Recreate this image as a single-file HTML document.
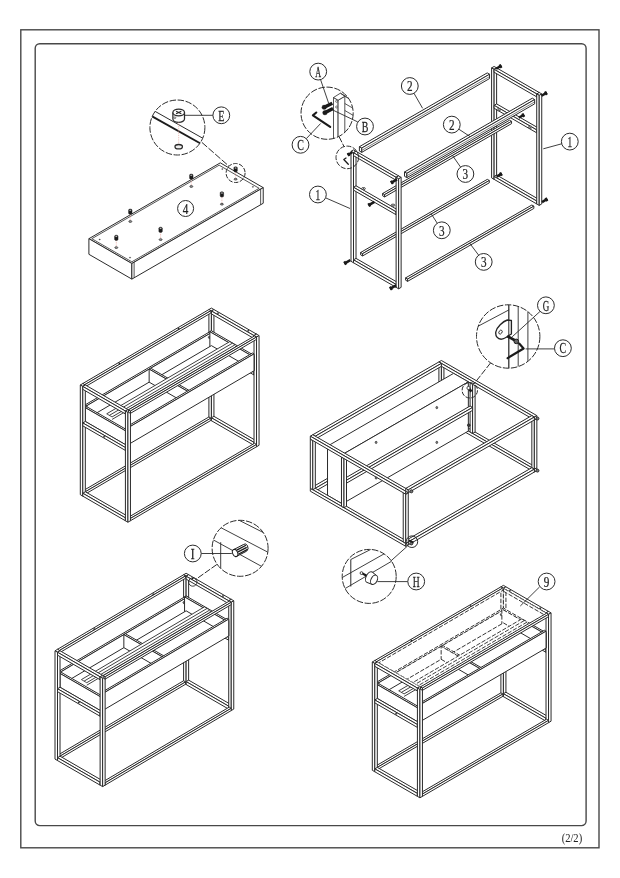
<!DOCTYPE html>
<html lang="en"><head><meta charset="utf-8"><title>Assembly instructions (2/2)</title>
<style>
html,body{margin:0;padding:0;background:#fff;}
body{width:620px;height:878px;overflow:hidden;}
svg{display:block;font-family:"Liberation Serif","Noto Serif CJK SC",serif;}
</style></head><body>
<svg style="will-change:transform" width="620" height="878" viewBox="0 0 620 878">
<rect x="20.8" y="29.8" width="578.2" height="818" fill="none" stroke="#484848" stroke-width="1.4"/>
<rect x="35.2" y="43.7" width="550.9" height="781.9" rx="4.5" ry="4.5" fill="none" stroke="#484848" stroke-width="1.4"/>
<text x="0" y="0" transform="translate(571.9 841.6) scale(0.88 1)" text-anchor="middle" font-size="12" fill="#222">(2/2)</text>
<polygon points="88.9,238.7 220.28,162.85 263.23,187.65 131.85,263.5" fill="#fff" stroke="#2a2a2a" stroke-width="1" stroke-linejoin="round"/>
<polygon points="88.9,254.3 131.85,279.1 131.85,263.5 88.9,238.7" fill="#fff" stroke="#2a2a2a" stroke-width="1" stroke-linejoin="round"/>
<polygon points="131.85,279.1 263.23,203.25 263.23,187.65 131.85,263.5" fill="#fff" stroke="#2a2a2a" stroke-width="1" stroke-linejoin="round"/>
<polygon points="91.84,238.7 219.15,165.2 259.16,188.3 131.85,261.8" fill="none" stroke="#2a2a2a" stroke-width="0.8" stroke-linejoin="round"/>
<line x1="260.63" y1="204.75" x2="260.63" y2="189.15" stroke="#2a2a2a" stroke-width="0.8" stroke-linecap="butt"/>
<line x1="134.11" y1="277.8" x2="134.11" y2="262.2" stroke="#2a2a2a" stroke-width="0.8" stroke-linecap="butt"/>
<line x1="235.6" y1="172" x2="235.6" y2="178.5" stroke="#e59a92" stroke-width="0.7" stroke-linecap="butt" stroke-dasharray="0.8 0.8"/>
<ellipse cx="235.6" cy="179.2" rx="1.5" ry="0.9" fill="#999" stroke="#2a2a2a" stroke-width="0.7"/>
<line x1="191.3" y1="179.3" x2="191.3" y2="185.8" stroke="#e59a92" stroke-width="0.7" stroke-linecap="butt" stroke-dasharray="0.8 0.8"/>
<ellipse cx="191.3" cy="186.5" rx="1.5" ry="0.9" fill="#999" stroke="#2a2a2a" stroke-width="0.7"/>
<line x1="221.9" y1="197" x2="221.9" y2="203.5" stroke="#e59a92" stroke-width="0.7" stroke-linecap="butt" stroke-dasharray="0.8 0.8"/>
<ellipse cx="221.9" cy="204.2" rx="1.5" ry="0.9" fill="#999" stroke="#2a2a2a" stroke-width="0.7"/>
<line x1="130.3" y1="214.3" x2="130.3" y2="220.8" stroke="#e59a92" stroke-width="0.7" stroke-linecap="butt" stroke-dasharray="0.8 0.8"/>
<ellipse cx="130.3" cy="221.5" rx="1.5" ry="0.9" fill="#999" stroke="#2a2a2a" stroke-width="0.7"/>
<line x1="160.6" y1="232.4" x2="160.6" y2="238.9" stroke="#e59a92" stroke-width="0.7" stroke-linecap="butt" stroke-dasharray="0.8 0.8"/>
<ellipse cx="160.6" cy="239.6" rx="1.5" ry="0.9" fill="#999" stroke="#2a2a2a" stroke-width="0.7"/>
<line x1="116.3" y1="240.4" x2="116.3" y2="246.9" stroke="#e59a92" stroke-width="0.7" stroke-linecap="butt" stroke-dasharray="0.8 0.8"/>
<ellipse cx="116.3" cy="247.6" rx="1.5" ry="0.9" fill="#999" stroke="#2a2a2a" stroke-width="0.7"/>
<path d="M233.9 167.8 v3.2 a1.7 1 0 0 0 3.4 0 v-3.2 a1.7 1 0 0 0 -3.4 0z" fill="#1a1a1a" stroke="#1a1a1a" stroke-width="0.5"/>
<ellipse cx="235.6" cy="168" rx="0.9" ry="0.5" fill="#ddd" stroke="#888" stroke-width="0.3"/>
<path d="M189.6 175.1 v3.2 a1.7 1 0 0 0 3.4 0 v-3.2 a1.7 1 0 0 0 -3.4 0z" fill="#1a1a1a" stroke="#1a1a1a" stroke-width="0.5"/>
<ellipse cx="191.3" cy="175.3" rx="0.9" ry="0.5" fill="#ddd" stroke="#888" stroke-width="0.3"/>
<path d="M220.2 192.8 v3.2 a1.7 1 0 0 0 3.4 0 v-3.2 a1.7 1 0 0 0 -3.4 0z" fill="#1a1a1a" stroke="#1a1a1a" stroke-width="0.5"/>
<ellipse cx="221.9" cy="193" rx="0.9" ry="0.5" fill="#ddd" stroke="#888" stroke-width="0.3"/>
<path d="M128.6 210.1 v3.2 a1.7 1 0 0 0 3.4 0 v-3.2 a1.7 1 0 0 0 -3.4 0z" fill="#1a1a1a" stroke="#1a1a1a" stroke-width="0.5"/>
<ellipse cx="130.3" cy="210.3" rx="0.9" ry="0.5" fill="#ddd" stroke="#888" stroke-width="0.3"/>
<path d="M158.9 228.2 v3.2 a1.7 1 0 0 0 3.4 0 v-3.2 a1.7 1 0 0 0 -3.4 0z" fill="#1a1a1a" stroke="#1a1a1a" stroke-width="0.5"/>
<ellipse cx="160.6" cy="228.4" rx="0.9" ry="0.5" fill="#ddd" stroke="#888" stroke-width="0.3"/>
<path d="M114.6 236.2 v3.2 a1.7 1 0 0 0 3.4 0 v-3.2 a1.7 1 0 0 0 -3.4 0z" fill="#1a1a1a" stroke="#1a1a1a" stroke-width="0.5"/>
<ellipse cx="116.3" cy="236.4" rx="0.9" ry="0.5" fill="#ddd" stroke="#888" stroke-width="0.3"/>
<circle cx="222.3" cy="169" r="0.6" fill="#333" stroke="#2a2a2a" stroke-width="0.3"/>
<circle cx="252.9" cy="186.8" r="0.6" fill="#333" stroke="#2a2a2a" stroke-width="0.3"/>
<circle cx="99.7" cy="239.5" r="0.6" fill="#333" stroke="#2a2a2a" stroke-width="0.3"/>
<circle cx="130" cy="257.6" r="0.6" fill="#333" stroke="#2a2a2a" stroke-width="0.3"/>
<circle cx="185.6" cy="208.5" r="8" fill="#fff" stroke="#2a2a2a" stroke-width="1"/>
<text x="0" y="0" transform="translate(185.6 213.7) scale(0.72 1)" text-anchor="middle" font-size="15.5" fill="#222" stroke="#222" stroke-width="0.25">4</text>
<clipPath id="cpE"><circle cx="177.4" cy="127.5" r="27.5"/></clipPath>
<g clip-path="url(#cpE)">
<line x1="150" y1="108.5" x2="205" y2="139.5" stroke="#2a2a2a" stroke-width="1" stroke-linecap="butt"/>
<line x1="148" y1="114" x2="205" y2="146" stroke="#1c1c1c" stroke-width="1.9" stroke-linecap="butt"/>
</g>
<path d="M172.9 112.5 v6.5 a5.8 3.3 0 0 0 11.6 0 v-6.5" fill="#fff" stroke="#2a2a2a" stroke-width="1.25"/>
<ellipse cx="178.7" cy="112.5" rx="5.8" ry="3.3" fill="#fff" stroke="#2a2a2a" stroke-width="1.25"/>
<line x1="176.1" y1="111.2" x2="181.3" y2="113.8" stroke="#222" stroke-width="1.1" stroke-linecap="butt"/>
<line x1="176.1" y1="113.8" x2="181.3" y2="111.2" stroke="#222" stroke-width="1.1" stroke-linecap="butt"/>
<circle cx="174.9" cy="117.7" r="0.9" fill="#fff" stroke="#2a2a2a" stroke-width="0.6"/>
<line x1="178.7" y1="122.5" x2="178.7" y2="144.5" stroke="#e6a8a0" stroke-width="0.8" stroke-linecap="butt" stroke-dasharray="0.9 0.9"/>
<ellipse cx="178.7" cy="146.7" rx="3.7" ry="2.2" fill="#eee" stroke="#2a2a2a" stroke-width="1.3"/>
<circle cx="177.4" cy="127.5" r="27.5" fill="none" stroke="#2a2a2a" stroke-width="1" stroke-dasharray="6.5 1.6"/>
<line x1="213" y1="115.3" x2="184.9" y2="115.3" stroke="#2a2a2a" stroke-width="0.9" stroke-linecap="butt"/>
<circle cx="221.3" cy="115.3" r="8.4" fill="#fff" stroke="#2a2a2a" stroke-width="1"/>
<text x="0" y="0" transform="translate(221.3 120.5) scale(0.66 1)" text-anchor="middle" font-size="15.5" fill="#222" stroke="#222" stroke-width="0.25">E</text>
<circle cx="235.6" cy="173" r="9.5" fill="none" stroke="#2a2a2a" stroke-width="1" stroke-dasharray="4.5 1.5"/>
<line x1="201.9" y1="142.4" x2="229" y2="166.2" stroke="#2a2a2a" stroke-width="1" stroke-linecap="butt" stroke-dasharray="7 1.8"/>
<polygon points="491.6,67.9 494.11,66.45 496.62,67.9 494.11,69.35" fill="#fff" stroke="#2a2a2a" stroke-width="1" stroke-linejoin="round"/>
<polygon points="491.6,177.9 494.11,179.35 494.11,69.35 491.6,67.9" fill="#fff" stroke="#2a2a2a" stroke-width="1" stroke-linejoin="round"/>
<polygon points="494.11,179.35 496.62,177.9 496.62,67.9 494.11,69.35" fill="#fff" stroke="#2a2a2a" stroke-width="1" stroke-linejoin="round"/>
<polygon points="494.11,176.45 496.62,175 539.23,199.6 536.72,201.05" fill="#fff" stroke="#2a2a2a" stroke-width="1" stroke-linejoin="round"/>
<polygon points="494.11,179.35 536.72,203.95 536.72,201.05 494.11,176.45" fill="#fff" stroke="#2a2a2a" stroke-width="1" stroke-linejoin="round"/>
<polygon points="536.72,203.95 539.23,202.5 539.23,199.6 536.72,201.05" fill="#fff" stroke="#2a2a2a" stroke-width="1" stroke-linejoin="round"/>
<polygon points="494.11,105.35 496.62,103.9 539.23,128.5 536.72,129.95" fill="#fff" stroke="#2a2a2a" stroke-width="1" stroke-linejoin="round"/>
<polygon points="494.11,108.25 536.72,132.85 536.72,129.95 494.11,105.35" fill="#fff" stroke="#2a2a2a" stroke-width="1" stroke-linejoin="round"/>
<polygon points="536.72,132.85 539.23,131.4 539.23,128.5 536.72,129.95" fill="#fff" stroke="#2a2a2a" stroke-width="1" stroke-linejoin="round"/>
<polygon points="494.11,69.35 496.62,67.9 539.23,92.5 536.72,93.95" fill="#fff" stroke="#2a2a2a" stroke-width="1" stroke-linejoin="round"/>
<polygon points="494.11,72.25 536.72,96.85 536.72,93.95 494.11,69.35" fill="#fff" stroke="#2a2a2a" stroke-width="1" stroke-linejoin="round"/>
<polygon points="536.72,96.85 539.23,95.4 539.23,92.5 536.72,93.95" fill="#fff" stroke="#2a2a2a" stroke-width="1" stroke-linejoin="round"/>
<polygon points="536.72,93.95 539.23,92.5 541.74,93.95 539.23,95.4" fill="#fff" stroke="#2a2a2a" stroke-width="1" stroke-linejoin="round"/>
<polygon points="536.72,203.95 539.23,205.4 539.23,95.4 536.72,93.95" fill="#fff" stroke="#2a2a2a" stroke-width="1" stroke-linejoin="round"/>
<polygon points="539.23,205.4 541.74,203.95 541.74,93.95 539.23,95.4" fill="#fff" stroke="#2a2a2a" stroke-width="1" stroke-linejoin="round"/>
<polygon points="359.4,146.7 487.23,72.9 489.56,74.25 361.74,148.05" fill="#fff" stroke="#2a2a2a" stroke-width="1" stroke-linejoin="round"/>
<polygon points="359.4,151 361.74,152.35 361.74,148.05 359.4,146.7" fill="#fff" stroke="#2a2a2a" stroke-width="1" stroke-linejoin="round"/>
<polygon points="361.74,152.35 489.56,78.55 489.56,74.25 361.74,148.05" fill="#fff" stroke="#2a2a2a" stroke-width="1" stroke-linejoin="round"/>
<line x1="361.74" y1="150.41" x2="489.56" y2="76.61" stroke="#2a2a2a" stroke-width="0.6" stroke-linecap="butt"/>
<polygon points="360.6,252.5 487.3,179.35 489.29,180.5 362.59,253.65" fill="#fff" stroke="#2a2a2a" stroke-width="1" stroke-linejoin="round"/>
<polygon points="360.6,254.8 362.59,255.95 362.59,253.65 360.6,252.5" fill="#fff" stroke="#2a2a2a" stroke-width="1" stroke-linejoin="round"/>
<polygon points="362.59,255.95 489.29,182.8 489.29,180.5 362.59,253.65" fill="#fff" stroke="#2a2a2a" stroke-width="1" stroke-linejoin="round"/>
<polygon points="382.6,193.5 509.56,120.2 511.55,121.35 384.59,194.65" fill="#fff" stroke="#2a2a2a" stroke-width="1" stroke-linejoin="round"/>
<polygon points="382.6,195.8 384.59,196.95 384.59,194.65 382.6,193.5" fill="#fff" stroke="#2a2a2a" stroke-width="1" stroke-linejoin="round"/>
<polygon points="384.59,196.95 511.55,123.65 511.55,121.35 384.59,194.65" fill="#fff" stroke="#2a2a2a" stroke-width="1" stroke-linejoin="round"/>
<polygon points="404.5,172 532.33,98.2 534.66,99.55 406.84,173.35" fill="#fff" stroke="#2a2a2a" stroke-width="1" stroke-linejoin="round"/>
<polygon points="404.5,176.3 406.84,177.65 406.84,173.35 404.5,172" fill="#fff" stroke="#2a2a2a" stroke-width="1" stroke-linejoin="round"/>
<polygon points="406.84,177.65 534.66,103.85 534.66,99.55 406.84,173.35" fill="#fff" stroke="#2a2a2a" stroke-width="1" stroke-linejoin="round"/>
<line x1="406.84" y1="175.72" x2="534.66" y2="101.92" stroke="#2a2a2a" stroke-width="0.6" stroke-linecap="butt"/>
<polygon points="405.6,277.9 531.87,205 533.86,206.15 407.59,279.05" fill="#fff" stroke="#2a2a2a" stroke-width="1" stroke-linejoin="round"/>
<polygon points="405.6,280.2 407.59,281.35 407.59,279.05 405.6,277.9" fill="#fff" stroke="#2a2a2a" stroke-width="1" stroke-linejoin="round"/>
<polygon points="407.59,281.35 533.86,208.45 533.86,206.15 407.59,279.05" fill="#fff" stroke="#2a2a2a" stroke-width="1" stroke-linejoin="round"/>
<polygon points="351,151.3 353.51,149.85 356.02,151.3 353.51,152.75" fill="#fff" stroke="#2a2a2a" stroke-width="1" stroke-linejoin="round"/>
<polygon points="351,261.3 353.51,262.75 353.51,152.75 351,151.3" fill="#fff" stroke="#2a2a2a" stroke-width="1" stroke-linejoin="round"/>
<polygon points="353.51,262.75 356.02,261.3 356.02,151.3 353.51,152.75" fill="#fff" stroke="#2a2a2a" stroke-width="1" stroke-linejoin="round"/>
<polygon points="353.51,259.85 356.02,258.4 398.63,283 396.12,284.45" fill="#fff" stroke="#2a2a2a" stroke-width="1" stroke-linejoin="round"/>
<polygon points="353.51,262.75 396.12,287.35 396.12,284.45 353.51,259.85" fill="#fff" stroke="#2a2a2a" stroke-width="1" stroke-linejoin="round"/>
<polygon points="396.12,287.35 398.63,285.9 398.63,283 396.12,284.45" fill="#fff" stroke="#2a2a2a" stroke-width="1" stroke-linejoin="round"/>
<polygon points="353.51,187.25 356.02,185.8 398.63,210.4 396.12,211.85" fill="#fff" stroke="#2a2a2a" stroke-width="1" stroke-linejoin="round"/>
<polygon points="353.51,190.15 396.12,214.75 396.12,211.85 353.51,187.25" fill="#fff" stroke="#2a2a2a" stroke-width="1" stroke-linejoin="round"/>
<polygon points="396.12,214.75 398.63,213.3 398.63,210.4 396.12,211.85" fill="#fff" stroke="#2a2a2a" stroke-width="1" stroke-linejoin="round"/>
<polygon points="353.51,152.75 356.02,151.3 398.63,175.9 396.12,177.35" fill="#fff" stroke="#2a2a2a" stroke-width="1" stroke-linejoin="round"/>
<polygon points="353.51,155.65 396.12,180.25 396.12,177.35 353.51,152.75" fill="#fff" stroke="#2a2a2a" stroke-width="1" stroke-linejoin="round"/>
<polygon points="396.12,180.25 398.63,178.8 398.63,175.9 396.12,177.35" fill="#fff" stroke="#2a2a2a" stroke-width="1" stroke-linejoin="round"/>
<polygon points="396.12,177.35 398.63,175.9 401.14,177.35 398.63,178.8" fill="#fff" stroke="#2a2a2a" stroke-width="1" stroke-linejoin="round"/>
<polygon points="396.12,287.35 398.63,288.8 398.63,178.8 396.12,177.35" fill="#fff" stroke="#2a2a2a" stroke-width="1" stroke-linejoin="round"/>
<polygon points="398.63,288.8 401.14,287.35 401.14,177.35 398.63,178.8" fill="#fff" stroke="#2a2a2a" stroke-width="1" stroke-linejoin="round"/>
<ellipse cx="363.5" cy="188.6" rx="1.9" ry="1.1" fill="#fff" stroke="#2a2a2a" stroke-width="0.8"/>
<circle cx="363.5" cy="188.6" r="0.5" fill="#333" stroke="#2a2a2a" stroke-width="0.2"/>
<ellipse cx="393" cy="205.2" rx="1.9" ry="1.1" fill="#fff" stroke="#2a2a2a" stroke-width="0.8"/>
<circle cx="393" cy="205.2" r="0.5" fill="#333" stroke="#2a2a2a" stroke-width="0.2"/>
<ellipse cx="498.8" cy="109.7" rx="1.9" ry="1.1" fill="#fff" stroke="#2a2a2a" stroke-width="0.8"/>
<circle cx="498.8" cy="109.7" r="0.5" fill="#333" stroke="#2a2a2a" stroke-width="0.2"/>
<ellipse cx="530.3" cy="127.2" rx="1.9" ry="1.1" fill="#fff" stroke="#2a2a2a" stroke-width="0.8"/>
<circle cx="530.3" cy="127.2" r="0.5" fill="#333" stroke="#2a2a2a" stroke-width="0.2"/>
<line x1="496.12" y1="68.75" x2="501.48" y2="65.65" stroke="#1a1a1a" stroke-width="2.5" stroke-linecap="butt"/>
<line x1="499.58" y1="66.75" x2="501.48" y2="65.65" stroke="#1a1a1a" stroke-width="3.8" stroke-linecap="butt"/>
<line x1="541.52" y1="95.75" x2="546.88" y2="92.65" stroke="#1a1a1a" stroke-width="2.5" stroke-linecap="butt"/>
<line x1="544.98" y1="93.75" x2="546.88" y2="92.65" stroke="#1a1a1a" stroke-width="3.8" stroke-linecap="butt"/>
<line x1="518.82" y1="117.75" x2="524.18" y2="114.65" stroke="#1a1a1a" stroke-width="2.5" stroke-linecap="butt"/>
<line x1="522.28" y1="115.75" x2="524.18" y2="114.65" stroke="#1a1a1a" stroke-width="3.8" stroke-linecap="butt"/>
<line x1="496.52" y1="176.65" x2="501.88" y2="173.55" stroke="#1a1a1a" stroke-width="2.5" stroke-linecap="butt"/>
<line x1="499.98" y1="174.65" x2="501.88" y2="173.55" stroke="#1a1a1a" stroke-width="3.8" stroke-linecap="butt"/>
<line x1="542.02" y1="202.05" x2="547.38" y2="198.95" stroke="#1a1a1a" stroke-width="2.5" stroke-linecap="butt"/>
<line x1="545.48" y1="200.05" x2="547.38" y2="198.95" stroke="#1a1a1a" stroke-width="3.8" stroke-linecap="butt"/>
<line x1="397.03" y1="179.45" x2="390.97" y2="182.95" stroke="#1a1a1a" stroke-width="2.5" stroke-linecap="butt"/>
<line x1="392.87" y1="181.85" x2="390.97" y2="182.95" stroke="#1a1a1a" stroke-width="3.8" stroke-linecap="butt"/>
<line x1="374.43" y1="201.95" x2="368.37" y2="205.45" stroke="#1a1a1a" stroke-width="2.5" stroke-linecap="butt"/>
<line x1="370.27" y1="204.35" x2="368.37" y2="205.45" stroke="#1a1a1a" stroke-width="3.8" stroke-linecap="butt"/>
<line x1="350.33" y1="260.05" x2="344.27" y2="263.55" stroke="#1a1a1a" stroke-width="2.5" stroke-linecap="butt"/>
<line x1="346.17" y1="262.45" x2="344.27" y2="263.55" stroke="#1a1a1a" stroke-width="3.8" stroke-linecap="butt"/>
<line x1="396.03" y1="285.35" x2="389.97" y2="288.85" stroke="#1a1a1a" stroke-width="2.5" stroke-linecap="butt"/>
<line x1="391.87" y1="287.75" x2="389.97" y2="288.85" stroke="#1a1a1a" stroke-width="3.8" stroke-linecap="butt"/>
<line x1="413.93" y1="93.2" x2="422.6" y2="108.3" stroke="#2a2a2a" stroke-width="0.9" stroke-linecap="butt"/>
<circle cx="409.8" cy="86" r="8.4" fill="#fff" stroke="#2a2a2a" stroke-width="1"/>
<text x="0" y="0" transform="translate(409.8 91.2) scale(0.72 1)" text-anchor="middle" font-size="15.5" fill="#222" stroke="#222" stroke-width="0.25">2</text>
<line x1="458.75" y1="129.14" x2="470" y2="136.5" stroke="#2a2a2a" stroke-width="0.9" stroke-linecap="butt"/>
<circle cx="451.8" cy="124.6" r="8.4" fill="#fff" stroke="#2a2a2a" stroke-width="1"/>
<text x="0" y="0" transform="translate(451.8 129.8) scale(0.72 1)" text-anchor="middle" font-size="15.5" fill="#222" stroke="#222" stroke-width="0.25">2</text>
<line x1="460.65" y1="167.19" x2="452.5" y2="155.5" stroke="#2a2a2a" stroke-width="0.9" stroke-linecap="butt"/>
<circle cx="465.4" cy="174" r="8.4" fill="#fff" stroke="#2a2a2a" stroke-width="1"/>
<text x="0" y="0" transform="translate(465.4 179.2) scale(0.72 1)" text-anchor="middle" font-size="15.5" fill="#222" stroke="#222" stroke-width="0.25">3</text>
<line x1="437.31" y1="223.32" x2="431" y2="213.5" stroke="#2a2a2a" stroke-width="0.9" stroke-linecap="butt"/>
<circle cx="441.8" cy="230.3" r="8.4" fill="#fff" stroke="#2a2a2a" stroke-width="1"/>
<text x="0" y="0" transform="translate(441.8 235.5) scale(0.72 1)" text-anchor="middle" font-size="15.5" fill="#222" stroke="#222" stroke-width="0.25">3</text>
<line x1="478.71" y1="255.26" x2="469.5" y2="243" stroke="#2a2a2a" stroke-width="0.9" stroke-linecap="butt"/>
<circle cx="483.7" cy="261.9" r="8.4" fill="#fff" stroke="#2a2a2a" stroke-width="1"/>
<text x="0" y="0" transform="translate(483.7 267.1) scale(0.72 1)" text-anchor="middle" font-size="15.5" fill="#222" stroke="#222" stroke-width="0.25">3</text>
<line x1="561.79" y1="143.78" x2="543.3" y2="148.8" stroke="#2a2a2a" stroke-width="0.9" stroke-linecap="butt"/>
<circle cx="569.8" cy="141.6" r="8.4" fill="#fff" stroke="#2a2a2a" stroke-width="1"/>
<text x="0" y="0" transform="translate(569.8 146.8) scale(0.6 1)" text-anchor="middle" font-size="15.5" fill="#222" stroke="#222" stroke-width="0.25">1</text>
<line x1="325.51" y1="197.82" x2="350" y2="208.5" stroke="#2a2a2a" stroke-width="0.9" stroke-linecap="butt"/>
<circle cx="317.9" cy="194.5" r="8.4" fill="#fff" stroke="#2a2a2a" stroke-width="1"/>
<text x="0" y="0" transform="translate(317.9 199.7) scale(0.6 1)" text-anchor="middle" font-size="15.5" fill="#222" stroke="#222" stroke-width="0.25">1</text>
<clipPath id="cpA"><circle cx="327.1" cy="113.2" r="26.1"/></clipPath>
<g clip-path="url(#cpA)">
<polygon points="333.5,97.5 338.1,100.2 338.1,150 333.5,150" fill="#fff" stroke="#2a2a2a" stroke-width="0.8" stroke-linejoin="round"/>
<polygon points="338.1,100.2 344.8,96.3 344.8,150 338.1,150" fill="#fff" stroke="#2a2a2a" stroke-width="0.8" stroke-linejoin="round"/>
<polygon points="333.5,97.5 340.4,93.2 344.8,96.3 338.1,100.2" fill="#fff" stroke="#2a2a2a" stroke-width="0.8" stroke-linejoin="round"/>
<line x1="340.4" y1="93.2" x2="356" y2="102.2" stroke="#2a2a2a" stroke-width="0.8" stroke-linecap="butt"/>
<line x1="344.8" y1="96.3" x2="356" y2="102.8" stroke="#2a2a2a" stroke-width="0.8" stroke-linecap="butt"/>
<line x1="344.8" y1="103.5" x2="356" y2="110" stroke="#2a2a2a" stroke-width="0.8" stroke-linecap="butt"/>
<line x1="344.8" y1="110.5" x2="356" y2="117" stroke="#2a2a2a" stroke-width="0.8" stroke-linecap="butt"/>
<circle cx="336.6" cy="101.3" r="1" fill="#fff" stroke="#2a2a2a" stroke-width="0.6"/>
<circle cx="336.6" cy="107" r="1" fill="#fff" stroke="#2a2a2a" stroke-width="0.6"/>
</g>
<line x1="324.29" y1="107.24" x2="332.31" y2="103.16" stroke="#1a1a1a" stroke-width="3.4" stroke-linecap="butt"/>
<line x1="324.99" y1="112.64" x2="333.01" y2="108.56" stroke="#1a1a1a" stroke-width="3.4" stroke-linecap="butt"/>
<circle cx="324.2" cy="107.3" r="2.3" fill="#1a1a1a" stroke="#2a2a2a" stroke-width="0.3"/>
<circle cx="324.9" cy="112.7" r="2.3" fill="#1a1a1a" stroke="#2a2a2a" stroke-width="0.3"/>
<polyline points="316.3,112.5 312.9,115.4 330.2,126.8" fill="none" stroke="#1a1a1a" stroke-width="2.1" stroke-linecap="round" stroke-linejoin="round"/>
<circle cx="327.1" cy="113.2" r="26.1" fill="none" stroke="#2a2a2a" stroke-width="1" stroke-dasharray="6.5 1.6"/>
<circle cx="347.3" cy="157.4" r="11.3" fill="none" stroke="#2a2a2a" stroke-width="1" stroke-dasharray="5 1.5"/>
<line x1="339.2" y1="136.9" x2="344" y2="146.5" stroke="#2a2a2a" stroke-width="1" stroke-linecap="butt" stroke-dasharray="6 1.6"/>
<line x1="352.38" y1="152.32" x2="347.62" y2="155.07" stroke="#1a1a1a" stroke-width="2.2" stroke-linecap="butt"/>
<line x1="349.52" y1="153.97" x2="347.62" y2="155.07" stroke="#1a1a1a" stroke-width="3.5" stroke-linecap="butt"/>
<polyline points="346,158 343.8,159.5 348.3,164.2" fill="none" stroke="#1a1a1a" stroke-width="1.3" stroke-linecap="round" stroke-linejoin="round"/>
<line x1="320.6" y1="79.7" x2="328.7" y2="103.4" stroke="#2a2a2a" stroke-width="0.9" stroke-linecap="butt"/>
<circle cx="318.2" cy="71.6" r="8.4" fill="#fff" stroke="#2a2a2a" stroke-width="1"/>
<text x="0" y="0" transform="translate(318.2 76.8) scale(0.52 1)" text-anchor="middle" font-size="15.5" fill="#222" stroke="#222" stroke-width="0.25">A</text>
<line x1="357.7" y1="121.9" x2="332.3" y2="109.8" stroke="#2a2a2a" stroke-width="0.9" stroke-linecap="butt"/>
<circle cx="365" cy="126.5" r="8.4" fill="#fff" stroke="#2a2a2a" stroke-width="1"/>
<text x="0" y="0" transform="translate(365 131.7) scale(0.64 1)" text-anchor="middle" font-size="15.5" fill="#222" stroke="#222" stroke-width="0.25">B</text>
<line x1="306.1" y1="138.9" x2="320.6" y2="123.5" stroke="#2a2a2a" stroke-width="0.9" stroke-linecap="butt"/>
<circle cx="300.5" cy="144.8" r="8.4" fill="#fff" stroke="#2a2a2a" stroke-width="1"/>
<text x="0" y="0" transform="translate(300.5 150) scale(0.64 1)" text-anchor="middle" font-size="15.5" fill="#222" stroke="#222" stroke-width="0.25">C</text>
<polygon points="208.9,309.56 211.42,308.09 213.93,309.54 211.42,311.01" fill="#fff" stroke="#2a2a2a" stroke-width="1" stroke-linejoin="round"/>
<polygon points="208.9,419.26 211.42,420.71 211.42,311.01 208.9,309.56" fill="#fff" stroke="#2a2a2a" stroke-width="1" stroke-linejoin="round"/>
<polygon points="211.42,420.71 213.93,419.24 213.93,309.54 211.42,311.01" fill="#fff" stroke="#2a2a2a" stroke-width="1" stroke-linejoin="round"/>
<polygon points="211.42,417.81 213.93,416.34 256.54,440.94 254.02,442.41" fill="#fff" stroke="#2a2a2a" stroke-width="1" stroke-linejoin="round"/>
<polygon points="211.42,420.71 254.02,445.31 254.02,442.41 211.42,417.81" fill="#fff" stroke="#2a2a2a" stroke-width="1" stroke-linejoin="round"/>
<polygon points="254.02,445.31 256.54,443.84 256.54,440.94 254.02,442.41" fill="#fff" stroke="#2a2a2a" stroke-width="1" stroke-linejoin="round"/>
<polygon points="211.42,347.51 213.93,346.04 256.54,370.64 254.02,372.11" fill="#fff" stroke="#2a2a2a" stroke-width="1" stroke-linejoin="round"/>
<polygon points="211.42,350.41 254.02,375.01 254.02,372.11 211.42,347.51" fill="#fff" stroke="#2a2a2a" stroke-width="1" stroke-linejoin="round"/>
<polygon points="254.02,375.01 256.54,373.54 256.54,370.64 254.02,372.11" fill="#fff" stroke="#2a2a2a" stroke-width="1" stroke-linejoin="round"/>
<polygon points="211.42,311.01 213.93,309.54 256.54,334.14 254.02,335.61" fill="#fff" stroke="#2a2a2a" stroke-width="1" stroke-linejoin="round"/>
<polygon points="211.42,313.91 254.02,338.51 254.02,335.61 211.42,311.01" fill="#fff" stroke="#2a2a2a" stroke-width="1" stroke-linejoin="round"/>
<polygon points="254.02,338.51 256.54,337.04 256.54,334.14 254.02,335.61" fill="#fff" stroke="#2a2a2a" stroke-width="1" stroke-linejoin="round"/>
<polygon points="254.02,335.61 256.54,334.14 259.05,335.59 256.54,337.06" fill="#fff" stroke="#2a2a2a" stroke-width="1" stroke-linejoin="round"/>
<polygon points="254.02,445.31 256.54,446.76 256.54,337.06 254.02,335.61" fill="#fff" stroke="#2a2a2a" stroke-width="1" stroke-linejoin="round"/>
<polygon points="256.54,446.76 259.05,445.29 259.05,335.59 256.54,337.06" fill="#fff" stroke="#2a2a2a" stroke-width="1" stroke-linejoin="round"/>
<polygon points="82.81,490.93 208.9,416.96 210.9,418.11 84.8,492.08" fill="#fff" stroke="#2a2a2a" stroke-width="1" stroke-linejoin="round"/>
<polygon points="82.81,493.23 84.8,494.38 84.8,492.08 82.81,490.93" fill="#fff" stroke="#2a2a2a" stroke-width="1" stroke-linejoin="round"/>
<polygon points="84.8,494.38 210.9,420.41 210.9,418.11 84.8,492.08" fill="#fff" stroke="#2a2a2a" stroke-width="1" stroke-linejoin="round"/>
<polygon points="82.81,383.53 208.9,309.56 210.9,310.71 84.8,384.68" fill="#fff" stroke="#2a2a2a" stroke-width="1" stroke-linejoin="round"/>
<polygon points="82.81,385.83 84.8,386.98 84.8,384.68 82.81,383.53" fill="#fff" stroke="#2a2a2a" stroke-width="1" stroke-linejoin="round"/>
<polygon points="84.8,386.98 210.9,313.01 210.9,310.71 84.8,384.68" fill="#fff" stroke="#2a2a2a" stroke-width="1" stroke-linejoin="round"/>
<polygon points="128.45,517.28 254.54,443.31 256.54,444.46 130.44,518.43" fill="#fff" stroke="#2a2a2a" stroke-width="1" stroke-linejoin="round"/>
<polygon points="128.45,519.58 130.44,520.73 130.44,518.43 128.45,517.28" fill="#fff" stroke="#2a2a2a" stroke-width="1" stroke-linejoin="round"/>
<polygon points="130.44,520.73 256.54,446.76 256.54,444.46 130.44,518.43" fill="#fff" stroke="#2a2a2a" stroke-width="1" stroke-linejoin="round"/>
<polygon points="85.32,404.78 211.42,330.81 212.98,331.71 86.88,405.68" fill="#fff" stroke="#2a2a2a" stroke-width="1" stroke-linejoin="round"/>
<polygon points="85.32,420.18 86.88,421.08 86.88,405.68 85.32,404.78" fill="#fff" stroke="#2a2a2a" stroke-width="1" stroke-linejoin="round"/>
<polygon points="86.88,421.08 212.98,347.11 212.98,331.71 86.88,405.68" fill="#fff" stroke="#2a2a2a" stroke-width="1" stroke-linejoin="round"/>
<ellipse cx="209.16" cy="337.45" rx="0.8" ry="1.1" fill="#777" stroke="#2a2a2a" stroke-width="0.7" transform="rotate(-20 209.16 337.45)"/>
<polygon points="209.86,331.73 211.42,330.81 254.02,355.41 252.47,356.33" fill="#fff" stroke="#2a2a2a" stroke-width="1" stroke-linejoin="round"/>
<polygon points="209.86,347.13 252.47,371.73 252.47,356.33 209.86,331.73" fill="#fff" stroke="#2a2a2a" stroke-width="1" stroke-linejoin="round"/>
<polygon points="252.47,371.73 254.02,370.81 254.02,355.41 252.47,356.33" fill="#fff" stroke="#2a2a2a" stroke-width="1" stroke-linejoin="round"/>
<polygon points="86.88,418.68 211.42,345.63 252.47,369.33 127.93,442.38" fill="#fff" stroke="#2a2a2a" stroke-width="1" stroke-linejoin="round"/>
<polygon points="149.15,369.15 150.71,368.24 190.2,391.04 188.64,391.95" fill="#fff" stroke="#2a2a2a" stroke-width="1" stroke-linejoin="round"/>
<polygon points="149.15,382.15 188.64,404.95 188.64,391.95 149.15,369.15" fill="#fff" stroke="#2a2a2a" stroke-width="1" stroke-linejoin="round"/>
<polygon points="188.64,404.95 190.2,404.04 190.2,391.04 188.64,391.95" fill="#fff" stroke="#2a2a2a" stroke-width="1" stroke-linejoin="round"/>
<polygon points="106.71,413.81 229.69,341.68 235.06,344.78 235.06,347.28 112.08,419.41 112.08,416.91" fill="#fff" stroke="#fff" stroke-width="0.01" stroke-linejoin="round"/>
<line x1="106.71" y1="413.81" x2="229.69" y2="341.68" stroke="#2a2a2a" stroke-width="0.9" stroke-linecap="butt"/>
<line x1="109.4" y1="415.36" x2="232.37" y2="343.23" stroke="#2a2a2a" stroke-width="0.9" stroke-linecap="butt"/>
<line x1="112.08" y1="416.91" x2="235.06" y2="344.78" stroke="#2a2a2a" stroke-width="0.9" stroke-linecap="butt"/>
<line x1="112.08" y1="419.41" x2="235.06" y2="347.28" stroke="#2a2a2a" stroke-width="0.9" stroke-linecap="butt"/>
<line x1="106.71" y1="413.81" x2="112.08" y2="416.91" stroke="#2a2a2a" stroke-width="0.8" stroke-linecap="butt"/>
<line x1="229.69" y1="341.68" x2="235.06" y2="344.78" stroke="#2a2a2a" stroke-width="0.8" stroke-linecap="butt"/>
<polygon points="85.32,407.68 86.88,406.76 129.49,431.36 127.93,432.28" fill="#fff" stroke="#2a2a2a" stroke-width="1" stroke-linejoin="round"/>
<polygon points="85.32,421.48 127.93,446.08 127.93,432.28 85.32,407.68" fill="#fff" stroke="#2a2a2a" stroke-width="1" stroke-linejoin="round"/>
<polygon points="127.93,446.08 129.49,445.16 129.49,431.36 127.93,432.28" fill="#fff" stroke="#2a2a2a" stroke-width="1" stroke-linejoin="round"/>
<polygon points="126.37,426.98 252.47,353.01 254.02,353.91 127.93,427.88" fill="#fff" stroke="#2a2a2a" stroke-width="1" stroke-linejoin="round"/>
<polygon points="126.37,443.88 127.93,444.78 127.93,427.88 126.37,426.98" fill="#fff" stroke="#2a2a2a" stroke-width="1" stroke-linejoin="round"/>
<polygon points="127.93,444.78 254.02,370.81 254.02,353.91 127.93,427.88" fill="#fff" stroke="#2a2a2a" stroke-width="1" stroke-linejoin="round"/>
<polygon points="80.3,385 82.81,383.53 85.32,384.98 82.81,386.45" fill="#fff" stroke="#2a2a2a" stroke-width="1" stroke-linejoin="round"/>
<polygon points="80.3,494.7 82.81,496.15 82.81,386.45 80.3,385" fill="#fff" stroke="#2a2a2a" stroke-width="1" stroke-linejoin="round"/>
<polygon points="82.81,496.15 85.32,494.68 85.32,384.98 82.81,386.45" fill="#fff" stroke="#2a2a2a" stroke-width="1" stroke-linejoin="round"/>
<polygon points="82.81,493.25 85.32,491.78 127.93,516.38 125.42,517.85" fill="#fff" stroke="#2a2a2a" stroke-width="1" stroke-linejoin="round"/>
<polygon points="82.81,496.15 125.42,520.75 125.42,517.85 82.81,493.25" fill="#fff" stroke="#2a2a2a" stroke-width="1" stroke-linejoin="round"/>
<polygon points="125.42,520.75 127.93,519.28 127.93,516.38 125.42,517.85" fill="#fff" stroke="#2a2a2a" stroke-width="1" stroke-linejoin="round"/>
<polygon points="82.81,422.95 85.32,421.48 127.93,446.08 125.42,447.55" fill="#fff" stroke="#2a2a2a" stroke-width="1" stroke-linejoin="round"/>
<polygon points="82.81,425.85 125.42,450.45 125.42,447.55 82.81,422.95" fill="#fff" stroke="#2a2a2a" stroke-width="1" stroke-linejoin="round"/>
<polygon points="125.42,450.45 127.93,448.98 127.93,446.08 125.42,447.55" fill="#fff" stroke="#2a2a2a" stroke-width="1" stroke-linejoin="round"/>
<polygon points="82.81,386.45 85.32,384.98 127.93,409.58 125.42,411.05" fill="#fff" stroke="#2a2a2a" stroke-width="1" stroke-linejoin="round"/>
<polygon points="82.81,389.35 125.42,413.95 125.42,411.05 82.81,386.45" fill="#fff" stroke="#2a2a2a" stroke-width="1" stroke-linejoin="round"/>
<polygon points="125.42,413.95 127.93,412.48 127.93,409.58 125.42,411.05" fill="#fff" stroke="#2a2a2a" stroke-width="1" stroke-linejoin="round"/>
<polygon points="125.42,411.05 127.93,409.58 130.44,411.03 127.93,412.5" fill="#fff" stroke="#2a2a2a" stroke-width="1" stroke-linejoin="round"/>
<polygon points="125.42,520.75 127.93,522.2 127.93,412.5 125.42,411.05" fill="#fff" stroke="#2a2a2a" stroke-width="1" stroke-linejoin="round"/>
<polygon points="127.93,522.2 130.44,520.73 130.44,411.03 127.93,412.5" fill="#fff" stroke="#2a2a2a" stroke-width="1" stroke-linejoin="round"/>
<polygon points="128.45,409.88 254.54,335.91 256.54,337.06 130.44,411.03" fill="#fff" stroke="#2a2a2a" stroke-width="1" stroke-linejoin="round"/>
<polygon points="128.45,412.18 130.44,413.33 130.44,411.03 128.45,409.88" fill="#fff" stroke="#2a2a2a" stroke-width="1" stroke-linejoin="round"/>
<polygon points="130.44,413.33 256.54,339.36 256.54,337.06 130.44,411.03" fill="#fff" stroke="#2a2a2a" stroke-width="1" stroke-linejoin="round"/>
<circle cx="119.49" cy="363.47" r="0.75" fill="#222" stroke="#2a2a2a" stroke-width="0.3"/>
<circle cx="178.55" cy="328.83" r="0.75" fill="#222" stroke="#2a2a2a" stroke-width="0.3"/>
<circle cx="217.95" cy="313.33" r="0.75" fill="#222" stroke="#2a2a2a" stroke-width="0.3"/>
<circle cx="248.27" cy="330.83" r="0.75" fill="#222" stroke="#2a2a2a" stroke-width="0.3"/>
<circle cx="104.12" cy="436.7" r="0.8" fill="#222" stroke="#2a2a2a" stroke-width="0.3"/>
<polygon points="438.9,414.05 441.42,412.6 536.85,467.7 534.34,469.15" fill="#fff" stroke="#2a2a2a" stroke-width="1" stroke-linejoin="round"/>
<polygon points="438.9,416.95 534.34,472.05 534.34,469.15 438.9,414.05" fill="#fff" stroke="#2a2a2a" stroke-width="1" stroke-linejoin="round"/>
<polygon points="534.34,472.05 536.85,470.6 536.85,467.7 534.34,469.15" fill="#fff" stroke="#2a2a2a" stroke-width="1" stroke-linejoin="round"/>
<polygon points="438.9,364.85 441.42,363.4 443.93,364.85 441.42,366.3" fill="#fff" stroke="#2a2a2a" stroke-width="1" stroke-linejoin="round"/>
<polygon points="438.9,414.05 441.42,415.5 441.42,366.3 438.9,364.85" fill="#fff" stroke="#2a2a2a" stroke-width="1" stroke-linejoin="round"/>
<polygon points="441.42,415.5 443.93,414.05 443.93,364.85 441.42,366.3" fill="#fff" stroke="#2a2a2a" stroke-width="1" stroke-linejoin="round"/>
<polygon points="470.08,382.85 472.59,381.4 475.1,382.85 472.59,384.3" fill="#fff" stroke="#2a2a2a" stroke-width="1" stroke-linejoin="round"/>
<polygon points="470.08,432.05 472.59,433.5 472.59,384.3 470.08,382.85" fill="#fff" stroke="#2a2a2a" stroke-width="1" stroke-linejoin="round"/>
<polygon points="472.59,433.5 475.1,432.05 475.1,382.85 472.59,384.3" fill="#fff" stroke="#2a2a2a" stroke-width="1" stroke-linejoin="round"/>
<polygon points="531.83,418.5 534.34,417.05 536.85,418.5 534.34,419.95" fill="#fff" stroke="#2a2a2a" stroke-width="1" stroke-linejoin="round"/>
<polygon points="531.83,467.7 534.34,469.15 534.34,419.95 531.83,418.5" fill="#fff" stroke="#2a2a2a" stroke-width="1" stroke-linejoin="round"/>
<polygon points="534.34,469.15 536.85,467.7 536.85,418.5 534.34,419.95" fill="#fff" stroke="#2a2a2a" stroke-width="1" stroke-linejoin="round"/>
<polygon points="438.9,361.95 441.42,360.5 536.85,415.6 534.34,417.05" fill="#fff" stroke="#2a2a2a" stroke-width="1" stroke-linejoin="round"/>
<polygon points="438.9,364.85 534.34,419.95 534.34,417.05 438.9,361.95" fill="#fff" stroke="#2a2a2a" stroke-width="1" stroke-linejoin="round"/>
<polygon points="534.34,419.95 536.85,418.5 536.85,415.6 534.34,417.05" fill="#fff" stroke="#2a2a2a" stroke-width="1" stroke-linejoin="round"/>
<polygon points="312.81,486.85 438.9,414.05 441.42,415.5 315.32,488.3" fill="#fff" stroke="#2a2a2a" stroke-width="1" stroke-linejoin="round"/>
<polygon points="312.81,489.75 315.32,491.2 315.32,488.3 312.81,486.85" fill="#fff" stroke="#2a2a2a" stroke-width="1" stroke-linejoin="round"/>
<polygon points="315.32,491.2 441.42,418.4 441.42,415.5 315.32,488.3" fill="#fff" stroke="#2a2a2a" stroke-width="1" stroke-linejoin="round"/>
<polygon points="327.53,446.15 453.63,373.35 468.35,381.85 342.26,454.65" fill="#fff" stroke="#2a2a2a" stroke-width="1" stroke-linejoin="round"/>
<polygon points="327.53,495.35 342.26,503.85 342.26,454.65 327.53,446.15" fill="#fff" stroke="#2a2a2a" stroke-width="1" stroke-linejoin="round"/>
<polygon points="342.26,503.85 468.35,431.05 468.35,381.85 342.26,454.65" fill="#fff" stroke="#2a2a2a" stroke-width="1" stroke-linejoin="round"/>
<ellipse cx="376.1" cy="442.4" rx="0.9" ry="1.1" fill="#999" stroke="#2a2a2a" stroke-width="0.8"/>
<ellipse cx="436.8" cy="407.6" rx="0.9" ry="1.1" fill="#999" stroke="#2a2a2a" stroke-width="0.8"/>
<ellipse cx="436.8" cy="442.4" rx="0.9" ry="1.1" fill="#999" stroke="#2a2a2a" stroke-width="0.8"/>
<polygon points="343.99,478.8 470.08,406 472.59,407.45 346.5,480.25" fill="#fff" stroke="#2a2a2a" stroke-width="1" stroke-linejoin="round"/>
<polygon points="343.99,481.7 346.5,483.15 346.5,480.25 343.99,478.8" fill="#fff" stroke="#2a2a2a" stroke-width="1" stroke-linejoin="round"/>
<polygon points="346.5,483.15 472.59,410.35 472.59,407.45 346.5,480.25" fill="#fff" stroke="#2a2a2a" stroke-width="1" stroke-linejoin="round"/>
<polygon points="312.81,434.75 438.9,361.95 441.42,363.4 315.32,436.2" fill="#fff" stroke="#2a2a2a" stroke-width="1" stroke-linejoin="round"/>
<polygon points="312.81,437.65 315.32,439.1 315.32,436.2 312.81,434.75" fill="#fff" stroke="#2a2a2a" stroke-width="1" stroke-linejoin="round"/>
<polygon points="315.32,439.1 441.42,366.3 441.42,363.4 315.32,436.2" fill="#fff" stroke="#2a2a2a" stroke-width="1" stroke-linejoin="round"/>
<polygon points="405.74,540.5 531.83,467.7 534.34,469.15 408.25,541.95" fill="#fff" stroke="#2a2a2a" stroke-width="1" stroke-linejoin="round"/>
<polygon points="405.74,543.4 408.25,544.85 408.25,541.95 405.74,540.5" fill="#fff" stroke="#2a2a2a" stroke-width="1" stroke-linejoin="round"/>
<polygon points="408.25,544.85 534.34,472.05 534.34,469.15 408.25,541.95" fill="#fff" stroke="#2a2a2a" stroke-width="1" stroke-linejoin="round"/>
<polygon points="310.3,488.3 312.81,486.85 408.25,541.95 405.74,543.4" fill="#fff" stroke="#2a2a2a" stroke-width="1" stroke-linejoin="round"/>
<polygon points="310.3,491.2 405.74,546.3 405.74,543.4 310.3,488.3" fill="#fff" stroke="#2a2a2a" stroke-width="1" stroke-linejoin="round"/>
<polygon points="405.74,546.3 408.25,544.85 408.25,541.95 405.74,543.4" fill="#fff" stroke="#2a2a2a" stroke-width="1" stroke-linejoin="round"/>
<polygon points="310.3,439.1 312.81,437.65 315.32,439.1 312.81,440.55" fill="#fff" stroke="#2a2a2a" stroke-width="1" stroke-linejoin="round"/>
<polygon points="310.3,488.3 312.81,489.75 312.81,440.55 310.3,439.1" fill="#fff" stroke="#2a2a2a" stroke-width="1" stroke-linejoin="round"/>
<polygon points="312.81,489.75 315.32,488.3 315.32,439.1 312.81,440.55" fill="#fff" stroke="#2a2a2a" stroke-width="1" stroke-linejoin="round"/>
<polygon points="341.48,457.1 343.99,455.65 346.5,457.1 343.99,458.55" fill="#fff" stroke="#2a2a2a" stroke-width="1" stroke-linejoin="round"/>
<polygon points="341.48,506.3 343.99,507.75 343.99,458.55 341.48,457.1" fill="#fff" stroke="#2a2a2a" stroke-width="1" stroke-linejoin="round"/>
<polygon points="343.99,507.75 346.5,506.3 346.5,457.1 343.99,458.55" fill="#fff" stroke="#2a2a2a" stroke-width="1" stroke-linejoin="round"/>
<polygon points="403.22,492.75 405.74,491.3 408.25,492.75 405.74,494.2" fill="#fff" stroke="#2a2a2a" stroke-width="1" stroke-linejoin="round"/>
<polygon points="403.22,541.95 405.74,543.4 405.74,494.2 403.22,492.75" fill="#fff" stroke="#2a2a2a" stroke-width="1" stroke-linejoin="round"/>
<polygon points="405.74,543.4 408.25,541.95 408.25,492.75 405.74,494.2" fill="#fff" stroke="#2a2a2a" stroke-width="1" stroke-linejoin="round"/>
<polygon points="310.3,436.2 312.81,434.75 408.25,489.85 405.74,491.3" fill="#fff" stroke="#2a2a2a" stroke-width="1" stroke-linejoin="round"/>
<polygon points="310.3,439.1 405.74,494.2 405.74,491.3 310.3,436.2" fill="#fff" stroke="#2a2a2a" stroke-width="1" stroke-linejoin="round"/>
<polygon points="405.74,494.2 408.25,492.75 408.25,489.85 405.74,491.3" fill="#fff" stroke="#2a2a2a" stroke-width="1" stroke-linejoin="round"/>
<polygon points="405.74,488.4 531.83,415.6 534.34,417.05 408.25,489.85" fill="#fff" stroke="#2a2a2a" stroke-width="1" stroke-linejoin="round"/>
<polygon points="405.74,491.3 408.25,492.75 408.25,489.85 405.74,488.4" fill="#fff" stroke="#2a2a2a" stroke-width="1" stroke-linejoin="round"/>
<polygon points="408.25,492.75 534.34,419.95 534.34,417.05 408.25,489.85" fill="#fff" stroke="#2a2a2a" stroke-width="1" stroke-linejoin="round"/>
<ellipse cx="376.1" cy="478" rx="0.9" ry="1.1" fill="#999" stroke="#2a2a2a" stroke-width="0.8"/>
<circle cx="411.35" cy="491.32" r="1.5" fill="#777" stroke="#222" stroke-width="0.9"/>
<circle cx="411.35" cy="543.42" r="1.5" fill="#777" stroke="#222" stroke-width="0.9"/>
<circle cx="537.45" cy="418.52" r="1.5" fill="#777" stroke="#222" stroke-width="0.9"/>
<circle cx="537.45" cy="470.62" r="1.5" fill="#777" stroke="#222" stroke-width="0.9"/>
<polygon points="183.6,574.77 186.12,573.28 188.63,574.73 186.12,576.22" fill="#fff" stroke="#2a2a2a" stroke-width="1" stroke-linejoin="round"/>
<polygon points="183.6,683.07 186.12,684.52 186.12,576.22 183.6,574.77" fill="#fff" stroke="#2a2a2a" stroke-width="1" stroke-linejoin="round"/>
<polygon points="186.12,684.52 188.63,683.03 188.63,574.73 186.12,576.22" fill="#fff" stroke="#2a2a2a" stroke-width="1" stroke-linejoin="round"/>
<polygon points="186.12,681.62 188.63,680.13 231.24,704.73 228.72,706.22" fill="#fff" stroke="#2a2a2a" stroke-width="1" stroke-linejoin="round"/>
<polygon points="186.12,684.52 228.72,709.12 228.72,706.22 186.12,681.62" fill="#fff" stroke="#2a2a2a" stroke-width="1" stroke-linejoin="round"/>
<polygon points="228.72,709.12 231.24,707.63 231.24,704.73 228.72,706.22" fill="#fff" stroke="#2a2a2a" stroke-width="1" stroke-linejoin="round"/>
<polygon points="186.12,612.72 188.63,611.23 231.24,635.83 228.72,637.32" fill="#fff" stroke="#2a2a2a" stroke-width="1" stroke-linejoin="round"/>
<polygon points="186.12,615.62 228.72,640.22 228.72,637.32 186.12,612.72" fill="#fff" stroke="#2a2a2a" stroke-width="1" stroke-linejoin="round"/>
<polygon points="228.72,640.22 231.24,638.73 231.24,635.83 228.72,637.32" fill="#fff" stroke="#2a2a2a" stroke-width="1" stroke-linejoin="round"/>
<polygon points="186.12,576.22 188.63,574.73 231.24,599.33 228.72,600.82" fill="#fff" stroke="#2a2a2a" stroke-width="1" stroke-linejoin="round"/>
<polygon points="186.12,579.12 228.72,603.72 228.72,600.82 186.12,576.22" fill="#fff" stroke="#2a2a2a" stroke-width="1" stroke-linejoin="round"/>
<polygon points="228.72,603.72 231.24,602.23 231.24,599.33 228.72,600.82" fill="#fff" stroke="#2a2a2a" stroke-width="1" stroke-linejoin="round"/>
<polygon points="228.72,600.82 231.24,599.33 233.75,600.78 231.24,602.27" fill="#fff" stroke="#2a2a2a" stroke-width="1" stroke-linejoin="round"/>
<polygon points="228.72,709.12 231.24,710.57 231.24,602.27 228.72,600.82" fill="#fff" stroke="#2a2a2a" stroke-width="1" stroke-linejoin="round"/>
<polygon points="231.24,710.57 233.75,709.08 233.75,600.78 231.24,602.27" fill="#fff" stroke="#2a2a2a" stroke-width="1" stroke-linejoin="round"/>
<polygon points="57.51,755.32 183.6,680.77 185.6,681.92 59.5,756.47" fill="#fff" stroke="#2a2a2a" stroke-width="1" stroke-linejoin="round"/>
<polygon points="57.51,757.62 59.5,758.77 59.5,756.47 57.51,755.32" fill="#fff" stroke="#2a2a2a" stroke-width="1" stroke-linejoin="round"/>
<polygon points="59.5,758.77 185.6,684.22 185.6,681.92 59.5,756.47" fill="#fff" stroke="#2a2a2a" stroke-width="1" stroke-linejoin="round"/>
<polygon points="57.51,649.32 183.6,574.77 185.6,575.92 59.5,650.47" fill="#fff" stroke="#2a2a2a" stroke-width="1" stroke-linejoin="round"/>
<polygon points="57.51,651.62 59.5,652.77 59.5,650.47 57.51,649.32" fill="#fff" stroke="#2a2a2a" stroke-width="1" stroke-linejoin="round"/>
<polygon points="59.5,652.77 185.6,578.22 185.6,575.92 59.5,650.47" fill="#fff" stroke="#2a2a2a" stroke-width="1" stroke-linejoin="round"/>
<polygon points="103.15,781.67 229.24,707.12 231.24,708.27 105.14,782.82" fill="#fff" stroke="#2a2a2a" stroke-width="1" stroke-linejoin="round"/>
<polygon points="103.15,783.97 105.14,785.12 105.14,782.82 103.15,781.67" fill="#fff" stroke="#2a2a2a" stroke-width="1" stroke-linejoin="round"/>
<polygon points="105.14,785.12 231.24,710.57 231.24,708.27 105.14,782.82" fill="#fff" stroke="#2a2a2a" stroke-width="1" stroke-linejoin="round"/>
<polygon points="60.02,670.57 186.12,596.02 187.68,596.92 61.58,671.47" fill="#fff" stroke="#2a2a2a" stroke-width="1" stroke-linejoin="round"/>
<polygon points="60.02,685.97 61.58,686.87 61.58,671.47 60.02,670.57" fill="#fff" stroke="#2a2a2a" stroke-width="1" stroke-linejoin="round"/>
<polygon points="61.58,686.87 187.68,612.32 187.68,596.92 61.58,671.47" fill="#fff" stroke="#2a2a2a" stroke-width="1" stroke-linejoin="round"/>
<ellipse cx="183.86" cy="602.67" rx="0.8" ry="1.1" fill="#777" stroke="#2a2a2a" stroke-width="0.7" transform="rotate(-20 183.86 602.67)"/>
<polygon points="184.56,596.94 186.12,596.02 228.72,620.62 227.17,621.54" fill="#fff" stroke="#2a2a2a" stroke-width="1" stroke-linejoin="round"/>
<polygon points="184.56,612.34 227.17,636.94 227.17,621.54 184.56,596.94" fill="#fff" stroke="#2a2a2a" stroke-width="1" stroke-linejoin="round"/>
<polygon points="227.17,636.94 228.72,636.02 228.72,620.62 227.17,621.54" fill="#fff" stroke="#2a2a2a" stroke-width="1" stroke-linejoin="round"/>
<polygon points="61.58,684.47 186.12,610.84 227.17,634.54 102.63,708.17" fill="#fff" stroke="#2a2a2a" stroke-width="1" stroke-linejoin="round"/>
<polygon points="123.85,634.65 125.41,633.73 164.9,656.53 163.34,657.45" fill="#fff" stroke="#2a2a2a" stroke-width="1" stroke-linejoin="round"/>
<polygon points="123.85,647.65 163.34,670.45 163.34,657.45 123.85,634.65" fill="#fff" stroke="#2a2a2a" stroke-width="1" stroke-linejoin="round"/>
<polygon points="163.34,670.45 164.9,669.53 164.9,656.53 163.34,657.45" fill="#fff" stroke="#2a2a2a" stroke-width="1" stroke-linejoin="round"/>
<polygon points="81.41,679.59 204.39,606.89 209.76,609.99 209.76,612.49 86.78,685.19 86.78,682.69" fill="#fff" stroke="#fff" stroke-width="0.01" stroke-linejoin="round"/>
<line x1="81.41" y1="679.59" x2="204.39" y2="606.89" stroke="#2a2a2a" stroke-width="0.9" stroke-linecap="butt"/>
<line x1="84.1" y1="681.14" x2="207.07" y2="608.44" stroke="#2a2a2a" stroke-width="0.9" stroke-linecap="butt"/>
<line x1="86.78" y1="682.69" x2="209.76" y2="609.99" stroke="#2a2a2a" stroke-width="0.9" stroke-linecap="butt"/>
<line x1="86.78" y1="685.19" x2="209.76" y2="612.49" stroke="#2a2a2a" stroke-width="0.9" stroke-linecap="butt"/>
<line x1="81.41" y1="679.59" x2="86.78" y2="682.69" stroke="#2a2a2a" stroke-width="0.8" stroke-linecap="butt"/>
<line x1="204.39" y1="606.89" x2="209.76" y2="609.99" stroke="#2a2a2a" stroke-width="0.8" stroke-linecap="butt"/>
<polygon points="60.02,673.47 61.58,672.54 104.19,697.14 102.63,698.07" fill="#fff" stroke="#2a2a2a" stroke-width="1" stroke-linejoin="round"/>
<polygon points="60.02,687.27 102.63,711.87 102.63,698.07 60.02,673.47" fill="#fff" stroke="#2a2a2a" stroke-width="1" stroke-linejoin="round"/>
<polygon points="102.63,711.87 104.19,710.94 104.19,697.14 102.63,698.07" fill="#fff" stroke="#2a2a2a" stroke-width="1" stroke-linejoin="round"/>
<polygon points="101.07,692.77 227.17,618.22 228.72,619.12 102.63,693.67" fill="#fff" stroke="#2a2a2a" stroke-width="1" stroke-linejoin="round"/>
<polygon points="101.07,709.67 102.63,710.57 102.63,693.67 101.07,692.77" fill="#fff" stroke="#2a2a2a" stroke-width="1" stroke-linejoin="round"/>
<polygon points="102.63,710.57 228.72,636.02 228.72,619.12 102.63,693.67" fill="#fff" stroke="#2a2a2a" stroke-width="1" stroke-linejoin="round"/>
<polygon points="55,650.8 57.51,649.32 60.02,650.77 57.51,652.25" fill="#fff" stroke="#2a2a2a" stroke-width="1" stroke-linejoin="round"/>
<polygon points="55,759.1 57.51,760.55 57.51,652.25 55,650.8" fill="#fff" stroke="#2a2a2a" stroke-width="1" stroke-linejoin="round"/>
<polygon points="57.51,760.55 60.02,759.07 60.02,650.77 57.51,652.25" fill="#fff" stroke="#2a2a2a" stroke-width="1" stroke-linejoin="round"/>
<polygon points="57.51,757.65 60.02,756.17 102.63,780.77 100.12,782.25" fill="#fff" stroke="#2a2a2a" stroke-width="1" stroke-linejoin="round"/>
<polygon points="57.51,760.55 100.12,785.15 100.12,782.25 57.51,757.65" fill="#fff" stroke="#2a2a2a" stroke-width="1" stroke-linejoin="round"/>
<polygon points="100.12,785.15 102.63,783.67 102.63,780.77 100.12,782.25" fill="#fff" stroke="#2a2a2a" stroke-width="1" stroke-linejoin="round"/>
<polygon points="57.51,688.75 60.02,687.27 102.63,711.87 100.12,713.35" fill="#fff" stroke="#2a2a2a" stroke-width="1" stroke-linejoin="round"/>
<polygon points="57.51,691.65 100.12,716.25 100.12,713.35 57.51,688.75" fill="#fff" stroke="#2a2a2a" stroke-width="1" stroke-linejoin="round"/>
<polygon points="100.12,716.25 102.63,714.77 102.63,711.87 100.12,713.35" fill="#fff" stroke="#2a2a2a" stroke-width="1" stroke-linejoin="round"/>
<polygon points="57.51,652.25 60.02,650.77 102.63,675.37 100.12,676.85" fill="#fff" stroke="#2a2a2a" stroke-width="1" stroke-linejoin="round"/>
<polygon points="57.51,655.15 100.12,679.75 100.12,676.85 57.51,652.25" fill="#fff" stroke="#2a2a2a" stroke-width="1" stroke-linejoin="round"/>
<polygon points="100.12,679.75 102.63,678.27 102.63,675.37 100.12,676.85" fill="#fff" stroke="#2a2a2a" stroke-width="1" stroke-linejoin="round"/>
<polygon points="100.12,676.85 102.63,675.37 105.14,676.82 102.63,678.3" fill="#fff" stroke="#2a2a2a" stroke-width="1" stroke-linejoin="round"/>
<polygon points="100.12,785.15 102.63,786.6 102.63,678.3 100.12,676.85" fill="#fff" stroke="#2a2a2a" stroke-width="1" stroke-linejoin="round"/>
<polygon points="102.63,786.6 105.14,785.12 105.14,676.82 102.63,678.3" fill="#fff" stroke="#2a2a2a" stroke-width="1" stroke-linejoin="round"/>
<polygon points="103.15,675.67 229.24,601.12 231.24,602.27 105.14,676.82" fill="#fff" stroke="#2a2a2a" stroke-width="1" stroke-linejoin="round"/>
<polygon points="103.15,677.97 105.14,679.12 105.14,676.82 103.15,675.67" fill="#fff" stroke="#2a2a2a" stroke-width="1" stroke-linejoin="round"/>
<polygon points="105.14,679.12 231.24,604.57 231.24,602.27 105.14,676.82" fill="#fff" stroke="#2a2a2a" stroke-width="1" stroke-linejoin="round"/>
<circle cx="94.19" cy="629.1" r="0.75" fill="#222" stroke="#2a2a2a" stroke-width="0.3"/>
<circle cx="153.25" cy="594.18" r="0.75" fill="#222" stroke="#2a2a2a" stroke-width="0.3"/>
<circle cx="192.65" cy="578.53" r="0.75" fill="#222" stroke="#2a2a2a" stroke-width="0.3"/>
<circle cx="222.97" cy="596.03" r="0.75" fill="#222" stroke="#2a2a2a" stroke-width="0.3"/>
<circle cx="78.82" cy="702.5" r="0.8" fill="#222" stroke="#2a2a2a" stroke-width="0.3"/>
<polygon points="500.9,586.86 503.42,585.39 505.93,586.84 503.42,588.31" fill="#fff" stroke="#2a2a2a" stroke-width="1" stroke-linejoin="round"/>
<polygon points="500.9,695.16 503.42,696.61 503.42,588.31 500.9,586.86" fill="#fff" stroke="#2a2a2a" stroke-width="1" stroke-linejoin="round"/>
<polygon points="503.42,696.61 505.93,695.14 505.93,586.84 503.42,588.31" fill="#fff" stroke="#2a2a2a" stroke-width="1" stroke-linejoin="round"/>
<polygon points="503.42,693.71 505.93,692.24 548.54,716.84 546.02,718.31" fill="#fff" stroke="#2a2a2a" stroke-width="1" stroke-linejoin="round"/>
<polygon points="503.42,696.61 546.02,721.21 546.02,718.31 503.42,693.71" fill="#fff" stroke="#2a2a2a" stroke-width="1" stroke-linejoin="round"/>
<polygon points="546.02,721.21 548.54,719.74 548.54,716.84 546.02,718.31" fill="#fff" stroke="#2a2a2a" stroke-width="1" stroke-linejoin="round"/>
<polygon points="503.42,624.81 505.93,623.34 548.54,647.94 546.02,649.41" fill="#fff" stroke="#2a2a2a" stroke-width="1" stroke-linejoin="round"/>
<polygon points="503.42,627.71 546.02,652.31 546.02,649.41 503.42,624.81" fill="#fff" stroke="#2a2a2a" stroke-width="1" stroke-linejoin="round"/>
<polygon points="546.02,652.31 548.54,650.84 548.54,647.94 546.02,649.41" fill="#fff" stroke="#2a2a2a" stroke-width="1" stroke-linejoin="round"/>
<polygon points="503.42,588.31 505.93,586.84 548.54,611.44 546.02,612.91" fill="#fff" stroke="#2a2a2a" stroke-width="1" stroke-linejoin="round"/>
<polygon points="503.42,591.21 546.02,615.81 546.02,612.91 503.42,588.31" fill="#fff" stroke="#2a2a2a" stroke-width="1" stroke-linejoin="round"/>
<polygon points="546.02,615.81 548.54,614.34 548.54,611.44 546.02,612.91" fill="#fff" stroke="#2a2a2a" stroke-width="1" stroke-linejoin="round"/>
<polygon points="546.02,612.91 548.54,611.44 551.05,612.89 548.54,614.36" fill="#fff" stroke="#2a2a2a" stroke-width="1" stroke-linejoin="round"/>
<polygon points="546.02,721.21 548.54,722.66 548.54,614.36 546.02,612.91" fill="#fff" stroke="#2a2a2a" stroke-width="1" stroke-linejoin="round"/>
<polygon points="548.54,722.66 551.05,721.19 551.05,612.89 548.54,614.36" fill="#fff" stroke="#2a2a2a" stroke-width="1" stroke-linejoin="round"/>
<polygon points="374.81,766.53 500.9,692.86 502.9,694.01 376.8,767.68" fill="#fff" stroke="#2a2a2a" stroke-width="1" stroke-linejoin="round"/>
<polygon points="374.81,768.83 376.8,769.98 376.8,767.68 374.81,766.53" fill="#fff" stroke="#2a2a2a" stroke-width="1" stroke-linejoin="round"/>
<polygon points="376.8,769.98 502.9,696.31 502.9,694.01 376.8,767.68" fill="#fff" stroke="#2a2a2a" stroke-width="1" stroke-linejoin="round"/>
<polygon points="374.81,660.53 500.9,586.86 502.9,588.01 376.8,661.68" fill="#fff" stroke="#2a2a2a" stroke-width="1" stroke-linejoin="round"/>
<polygon points="374.81,662.83 376.8,663.98 376.8,661.68 374.81,660.53" fill="#fff" stroke="#2a2a2a" stroke-width="1" stroke-linejoin="round"/>
<polygon points="376.8,663.98 502.9,590.31 502.9,588.01 376.8,661.68" fill="#fff" stroke="#2a2a2a" stroke-width="1" stroke-linejoin="round"/>
<polygon points="420.45,792.88 546.54,719.21 548.54,720.36 422.44,794.03" fill="#fff" stroke="#2a2a2a" stroke-width="1" stroke-linejoin="round"/>
<polygon points="420.45,795.18 422.44,796.33 422.44,794.03 420.45,792.88" fill="#fff" stroke="#2a2a2a" stroke-width="1" stroke-linejoin="round"/>
<polygon points="422.44,796.33 548.54,722.66 548.54,720.36 422.44,794.03" fill="#fff" stroke="#2a2a2a" stroke-width="1" stroke-linejoin="round"/>
<polygon points="377.32,681.78 503.42,608.11 504.98,609.01 378.88,682.68" fill="#fff" stroke="#2a2a2a" stroke-width="1" stroke-linejoin="round"/>
<polygon points="377.32,697.18 378.88,698.08 378.88,682.68 377.32,681.78" fill="#fff" stroke="#2a2a2a" stroke-width="1" stroke-linejoin="round"/>
<polygon points="378.88,698.08 504.98,624.41 504.98,609.01 378.88,682.68" fill="#fff" stroke="#2a2a2a" stroke-width="1" stroke-linejoin="round"/>
<ellipse cx="501.16" cy="614.74" rx="0.8" ry="1.1" fill="#777" stroke="#2a2a2a" stroke-width="0.7" transform="rotate(-20 501.16 614.74)"/>
<polygon points="501.86,609.02 503.42,608.11 546.02,632.71 544.47,633.62" fill="#fff" stroke="#2a2a2a" stroke-width="1" stroke-linejoin="round"/>
<polygon points="501.86,624.42 544.47,649.02 544.47,633.62 501.86,609.02" fill="#fff" stroke="#2a2a2a" stroke-width="1" stroke-linejoin="round"/>
<polygon points="544.47,649.02 546.02,648.11 546.02,632.71 544.47,633.62" fill="#fff" stroke="#2a2a2a" stroke-width="1" stroke-linejoin="round"/>
<polygon points="378.88,695.68 503.42,622.92 544.47,646.62 419.93,719.38" fill="#fff" stroke="#2a2a2a" stroke-width="1" stroke-linejoin="round"/>
<polygon points="441.15,646.3 442.71,645.39 482.2,668.19 480.64,669.1" fill="#fff" stroke="#2a2a2a" stroke-width="1" stroke-linejoin="round"/>
<polygon points="441.15,659.3 480.64,682.1 480.64,669.1 441.15,646.3" fill="#fff" stroke="#2a2a2a" stroke-width="1" stroke-linejoin="round"/>
<polygon points="480.64,682.1 482.2,681.19 482.2,668.19 480.64,669.1" fill="#fff" stroke="#2a2a2a" stroke-width="1" stroke-linejoin="round"/>
<polygon points="398.71,690.82 521.69,618.97 527.06,622.07 527.06,624.57 404.08,696.42 404.08,693.92" fill="#fff" stroke="#fff" stroke-width="0.01" stroke-linejoin="round"/>
<line x1="398.71" y1="690.82" x2="521.69" y2="618.97" stroke="#2a2a2a" stroke-width="0.9" stroke-linecap="butt"/>
<line x1="401.4" y1="692.37" x2="524.37" y2="620.52" stroke="#2a2a2a" stroke-width="0.9" stroke-linecap="butt"/>
<line x1="404.08" y1="693.92" x2="527.06" y2="622.07" stroke="#2a2a2a" stroke-width="0.9" stroke-linecap="butt"/>
<line x1="404.08" y1="696.42" x2="527.06" y2="624.57" stroke="#2a2a2a" stroke-width="0.9" stroke-linecap="butt"/>
<line x1="398.71" y1="690.82" x2="404.08" y2="693.92" stroke="#2a2a2a" stroke-width="0.8" stroke-linecap="butt"/>
<line x1="521.69" y1="618.97" x2="527.06" y2="622.07" stroke="#2a2a2a" stroke-width="0.8" stroke-linecap="butt"/>
<polygon points="377.32,684.68 378.88,683.77 421.49,708.37 419.93,709.28" fill="#fff" stroke="#2a2a2a" stroke-width="1" stroke-linejoin="round"/>
<polygon points="377.32,698.48 419.93,723.08 419.93,709.28 377.32,684.68" fill="#fff" stroke="#2a2a2a" stroke-width="1" stroke-linejoin="round"/>
<polygon points="419.93,723.08 421.49,722.17 421.49,708.37 419.93,709.28" fill="#fff" stroke="#2a2a2a" stroke-width="1" stroke-linejoin="round"/>
<polygon points="418.37,703.98 544.47,630.31 546.02,631.21 419.93,704.88" fill="#fff" stroke="#2a2a2a" stroke-width="1" stroke-linejoin="round"/>
<polygon points="418.37,720.88 419.93,721.78 419.93,704.88 418.37,703.98" fill="#fff" stroke="#2a2a2a" stroke-width="1" stroke-linejoin="round"/>
<polygon points="419.93,721.78 546.02,648.11 546.02,631.21 419.93,704.88" fill="#fff" stroke="#2a2a2a" stroke-width="1" stroke-linejoin="round"/>
<polygon points="372.3,662 374.81,660.53 377.32,661.98 374.81,663.45" fill="#fff" stroke="#2a2a2a" stroke-width="1" stroke-linejoin="round"/>
<polygon points="372.3,770.3 374.81,771.75 374.81,663.45 372.3,662" fill="#fff" stroke="#2a2a2a" stroke-width="1" stroke-linejoin="round"/>
<polygon points="374.81,771.75 377.32,770.28 377.32,661.98 374.81,663.45" fill="#fff" stroke="#2a2a2a" stroke-width="1" stroke-linejoin="round"/>
<polygon points="374.81,768.85 377.32,767.38 419.93,791.98 417.42,793.45" fill="#fff" stroke="#2a2a2a" stroke-width="1" stroke-linejoin="round"/>
<polygon points="374.81,771.75 417.42,796.35 417.42,793.45 374.81,768.85" fill="#fff" stroke="#2a2a2a" stroke-width="1" stroke-linejoin="round"/>
<polygon points="417.42,796.35 419.93,794.88 419.93,791.98 417.42,793.45" fill="#fff" stroke="#2a2a2a" stroke-width="1" stroke-linejoin="round"/>
<polygon points="374.81,699.95 377.32,698.48 419.93,723.08 417.42,724.55" fill="#fff" stroke="#2a2a2a" stroke-width="1" stroke-linejoin="round"/>
<polygon points="374.81,702.85 417.42,727.45 417.42,724.55 374.81,699.95" fill="#fff" stroke="#2a2a2a" stroke-width="1" stroke-linejoin="round"/>
<polygon points="417.42,727.45 419.93,725.98 419.93,723.08 417.42,724.55" fill="#fff" stroke="#2a2a2a" stroke-width="1" stroke-linejoin="round"/>
<polygon points="374.81,663.45 377.32,661.98 419.93,686.58 417.42,688.05" fill="#fff" stroke="#2a2a2a" stroke-width="1" stroke-linejoin="round"/>
<polygon points="374.81,666.35 417.42,690.95 417.42,688.05 374.81,663.45" fill="#fff" stroke="#2a2a2a" stroke-width="1" stroke-linejoin="round"/>
<polygon points="417.42,690.95 419.93,689.48 419.93,686.58 417.42,688.05" fill="#fff" stroke="#2a2a2a" stroke-width="1" stroke-linejoin="round"/>
<polygon points="417.42,688.05 419.93,686.58 422.44,688.03 419.93,689.5" fill="#fff" stroke="#2a2a2a" stroke-width="1" stroke-linejoin="round"/>
<polygon points="417.42,796.35 419.93,797.8 419.93,689.5 417.42,688.05" fill="#fff" stroke="#2a2a2a" stroke-width="1" stroke-linejoin="round"/>
<polygon points="419.93,797.8 422.44,796.33 422.44,688.03 419.93,689.5" fill="#fff" stroke="#2a2a2a" stroke-width="1" stroke-linejoin="round"/>
<polygon points="420.45,686.88 546.54,613.21 548.54,614.36 422.44,688.03" fill="#fff" stroke="#2a2a2a" stroke-width="1" stroke-linejoin="round"/>
<polygon points="420.45,689.18 422.44,690.33 422.44,688.03 420.45,686.88" fill="#fff" stroke="#2a2a2a" stroke-width="1" stroke-linejoin="round"/>
<polygon points="422.44,690.33 548.54,616.66 548.54,614.36 422.44,688.03" fill="#fff" stroke="#2a2a2a" stroke-width="1" stroke-linejoin="round"/>
<circle cx="411.49" cy="640.56" r="0.75" fill="#222" stroke="#2a2a2a" stroke-width="0.3"/>
<circle cx="470.55" cy="606.05" r="0.75" fill="#222" stroke="#2a2a2a" stroke-width="0.3"/>
<circle cx="509.95" cy="590.63" r="0.75" fill="#222" stroke="#2a2a2a" stroke-width="0.3"/>
<circle cx="540.27" cy="608.13" r="0.75" fill="#222" stroke="#2a2a2a" stroke-width="0.3"/>
<circle cx="396.12" cy="713.7" r="0.8" fill="#222" stroke="#2a2a2a" stroke-width="0.3"/>
<clipPath id="cp9"><polygon points="377.32,661.98 503.42,588.31 546.02,612.91 419.93,686.58"/></clipPath>
<g clip-path="url(#cp9)">
<polygon points="377.32,661.98 503.42,588.31 546.02,612.91 419.93,686.58" fill="#fff" stroke="#fff" stroke-width="0.1" stroke-linejoin="round"/>
<polygon points="500.9,586.86 503.42,585.39 505.93,586.84 503.42,588.31" fill="#fff" stroke="#2a2a2a" stroke-width="0.95" stroke-linejoin="round" stroke-dasharray="4.4 1.6"/>
<polygon points="500.9,695.16 503.42,696.61 503.42,588.31 500.9,586.86" fill="#fff" stroke="#2a2a2a" stroke-width="0.95" stroke-linejoin="round" stroke-dasharray="4.4 1.6"/>
<polygon points="503.42,696.61 505.93,695.14 505.93,586.84 503.42,588.31" fill="#fff" stroke="#2a2a2a" stroke-width="0.95" stroke-linejoin="round" stroke-dasharray="4.4 1.6"/>
<polygon points="503.42,693.71 505.93,692.24 548.54,716.84 546.02,718.31" fill="#fff" stroke="#2a2a2a" stroke-width="0.95" stroke-linejoin="round" stroke-dasharray="4.4 1.6"/>
<polygon points="503.42,696.61 546.02,721.21 546.02,718.31 503.42,693.71" fill="#fff" stroke="#2a2a2a" stroke-width="0.95" stroke-linejoin="round" stroke-dasharray="4.4 1.6"/>
<polygon points="546.02,721.21 548.54,719.74 548.54,716.84 546.02,718.31" fill="#fff" stroke="#2a2a2a" stroke-width="0.95" stroke-linejoin="round" stroke-dasharray="4.4 1.6"/>
<polygon points="503.42,624.81 505.93,623.34 548.54,647.94 546.02,649.41" fill="#fff" stroke="#2a2a2a" stroke-width="0.95" stroke-linejoin="round" stroke-dasharray="4.4 1.6"/>
<polygon points="503.42,627.71 546.02,652.31 546.02,649.41 503.42,624.81" fill="#fff" stroke="#2a2a2a" stroke-width="0.95" stroke-linejoin="round" stroke-dasharray="4.4 1.6"/>
<polygon points="546.02,652.31 548.54,650.84 548.54,647.94 546.02,649.41" fill="#fff" stroke="#2a2a2a" stroke-width="0.95" stroke-linejoin="round" stroke-dasharray="4.4 1.6"/>
<polygon points="503.42,588.31 505.93,586.84 548.54,611.44 546.02,612.91" fill="#fff" stroke="#2a2a2a" stroke-width="0.95" stroke-linejoin="round" stroke-dasharray="4.4 1.6"/>
<polygon points="503.42,591.21 546.02,615.81 546.02,612.91 503.42,588.31" fill="#fff" stroke="#2a2a2a" stroke-width="0.95" stroke-linejoin="round" stroke-dasharray="4.4 1.6"/>
<polygon points="546.02,615.81 548.54,614.34 548.54,611.44 546.02,612.91" fill="#fff" stroke="#2a2a2a" stroke-width="0.95" stroke-linejoin="round" stroke-dasharray="4.4 1.6"/>
<polygon points="546.02,612.91 548.54,611.44 551.05,612.89 548.54,614.36" fill="#fff" stroke="#2a2a2a" stroke-width="0.95" stroke-linejoin="round" stroke-dasharray="4.4 1.6"/>
<polygon points="546.02,721.21 548.54,722.66 548.54,614.36 546.02,612.91" fill="#fff" stroke="#2a2a2a" stroke-width="0.95" stroke-linejoin="round" stroke-dasharray="4.4 1.6"/>
<polygon points="548.54,722.66 551.05,721.19 551.05,612.89 548.54,614.36" fill="#fff" stroke="#2a2a2a" stroke-width="0.95" stroke-linejoin="round" stroke-dasharray="4.4 1.6"/>
<polygon points="374.81,766.53 500.9,692.86 502.9,694.01 376.8,767.68" fill="#fff" stroke="#2a2a2a" stroke-width="0.95" stroke-linejoin="round" stroke-dasharray="4.4 1.6"/>
<polygon points="374.81,768.83 376.8,769.98 376.8,767.68 374.81,766.53" fill="#fff" stroke="#2a2a2a" stroke-width="0.95" stroke-linejoin="round" stroke-dasharray="4.4 1.6"/>
<polygon points="376.8,769.98 502.9,696.31 502.9,694.01 376.8,767.68" fill="#fff" stroke="#2a2a2a" stroke-width="0.95" stroke-linejoin="round" stroke-dasharray="4.4 1.6"/>
<polygon points="374.81,660.53 500.9,586.86 502.9,588.01 376.8,661.68" fill="#fff" stroke="#2a2a2a" stroke-width="0.95" stroke-linejoin="round" stroke-dasharray="4.4 1.6"/>
<polygon points="374.81,662.83 376.8,663.98 376.8,661.68 374.81,660.53" fill="#fff" stroke="#2a2a2a" stroke-width="0.95" stroke-linejoin="round" stroke-dasharray="4.4 1.6"/>
<polygon points="376.8,663.98 502.9,590.31 502.9,588.01 376.8,661.68" fill="#fff" stroke="#2a2a2a" stroke-width="0.95" stroke-linejoin="round" stroke-dasharray="4.4 1.6"/>
<polygon points="420.45,792.88 546.54,719.21 548.54,720.36 422.44,794.03" fill="#fff" stroke="#2a2a2a" stroke-width="0.95" stroke-linejoin="round" stroke-dasharray="4.4 1.6"/>
<polygon points="420.45,795.18 422.44,796.33 422.44,794.03 420.45,792.88" fill="#fff" stroke="#2a2a2a" stroke-width="0.95" stroke-linejoin="round" stroke-dasharray="4.4 1.6"/>
<polygon points="422.44,796.33 548.54,722.66 548.54,720.36 422.44,794.03" fill="#fff" stroke="#2a2a2a" stroke-width="0.95" stroke-linejoin="round" stroke-dasharray="4.4 1.6"/>
<polygon points="377.32,681.78 503.42,608.11 504.98,609.01 378.88,682.68" fill="#fff" stroke="#2a2a2a" stroke-width="0.95" stroke-linejoin="round" stroke-dasharray="4.4 1.6"/>
<polygon points="377.32,697.18 378.88,698.08 378.88,682.68 377.32,681.78" fill="#fff" stroke="#2a2a2a" stroke-width="0.95" stroke-linejoin="round" stroke-dasharray="4.4 1.6"/>
<polygon points="378.88,698.08 504.98,624.41 504.98,609.01 378.88,682.68" fill="#fff" stroke="#2a2a2a" stroke-width="0.95" stroke-linejoin="round" stroke-dasharray="4.4 1.6"/>
<ellipse cx="501.16" cy="614.74" rx="0.8" ry="1.1" fill="#777" stroke="#2a2a2a" stroke-width="0.7" transform="rotate(-20 501.16 614.74)"/>
<polygon points="501.86,609.02 503.42,608.11 546.02,632.71 544.47,633.62" fill="#fff" stroke="#2a2a2a" stroke-width="0.95" stroke-linejoin="round" stroke-dasharray="4.4 1.6"/>
<polygon points="501.86,624.42 544.47,649.02 544.47,633.62 501.86,609.02" fill="#fff" stroke="#2a2a2a" stroke-width="0.95" stroke-linejoin="round" stroke-dasharray="4.4 1.6"/>
<polygon points="544.47,649.02 546.02,648.11 546.02,632.71 544.47,633.62" fill="#fff" stroke="#2a2a2a" stroke-width="0.95" stroke-linejoin="round" stroke-dasharray="4.4 1.6"/>
<polygon points="378.88,695.68 503.42,622.92 544.47,646.62 419.93,719.38" fill="#fff" stroke="#2a2a2a" stroke-width="0.95" stroke-linejoin="round" stroke-dasharray="4.4 1.6"/>
<polygon points="441.15,646.3 442.71,645.39 482.2,668.19 480.64,669.1" fill="#fff" stroke="#2a2a2a" stroke-width="0.95" stroke-linejoin="round" stroke-dasharray="4.4 1.6"/>
<polygon points="441.15,659.3 480.64,682.1 480.64,669.1 441.15,646.3" fill="#fff" stroke="#2a2a2a" stroke-width="0.95" stroke-linejoin="round" stroke-dasharray="4.4 1.6"/>
<polygon points="480.64,682.1 482.2,681.19 482.2,668.19 480.64,669.1" fill="#fff" stroke="#2a2a2a" stroke-width="0.95" stroke-linejoin="round" stroke-dasharray="4.4 1.6"/>
<polygon points="398.71,690.82 521.69,618.97 527.06,622.07 527.06,624.57 404.08,696.42 404.08,693.92" fill="#fff" stroke="#fff" stroke-width="0.01" stroke-linejoin="round" stroke-dasharray="4.4 1.6"/>
<line x1="398.71" y1="690.82" x2="521.69" y2="618.97" stroke="#2a2a2a" stroke-width="0.9" stroke-linecap="butt" stroke-dasharray="4.4 1.6"/>
<line x1="401.4" y1="692.37" x2="524.37" y2="620.52" stroke="#2a2a2a" stroke-width="0.9" stroke-linecap="butt" stroke-dasharray="4.4 1.6"/>
<line x1="404.08" y1="693.92" x2="527.06" y2="622.07" stroke="#2a2a2a" stroke-width="0.9" stroke-linecap="butt" stroke-dasharray="4.4 1.6"/>
<line x1="404.08" y1="696.42" x2="527.06" y2="624.57" stroke="#2a2a2a" stroke-width="0.9" stroke-linecap="butt" stroke-dasharray="4.4 1.6"/>
<line x1="398.71" y1="690.82" x2="404.08" y2="693.92" stroke="#2a2a2a" stroke-width="0.8" stroke-linecap="butt" stroke-dasharray="4.4 1.6"/>
<line x1="521.69" y1="618.97" x2="527.06" y2="622.07" stroke="#2a2a2a" stroke-width="0.8" stroke-linecap="butt" stroke-dasharray="4.4 1.6"/>
<polygon points="377.32,684.68 378.88,683.77 421.49,708.37 419.93,709.28" fill="#fff" stroke="#2a2a2a" stroke-width="0.95" stroke-linejoin="round" stroke-dasharray="4.4 1.6"/>
<polygon points="377.32,698.48 419.93,723.08 419.93,709.28 377.32,684.68" fill="#fff" stroke="#2a2a2a" stroke-width="0.95" stroke-linejoin="round" stroke-dasharray="4.4 1.6"/>
<polygon points="419.93,723.08 421.49,722.17 421.49,708.37 419.93,709.28" fill="#fff" stroke="#2a2a2a" stroke-width="0.95" stroke-linejoin="round" stroke-dasharray="4.4 1.6"/>
<polygon points="418.37,703.98 544.47,630.31 546.02,631.21 419.93,704.88" fill="#fff" stroke="#2a2a2a" stroke-width="0.95" stroke-linejoin="round" stroke-dasharray="4.4 1.6"/>
<polygon points="418.37,720.88 419.93,721.78 419.93,704.88 418.37,703.98" fill="#fff" stroke="#2a2a2a" stroke-width="0.95" stroke-linejoin="round" stroke-dasharray="4.4 1.6"/>
<polygon points="419.93,721.78 546.02,648.11 546.02,631.21 419.93,704.88" fill="#fff" stroke="#2a2a2a" stroke-width="0.95" stroke-linejoin="round" stroke-dasharray="4.4 1.6"/>
<polygon points="372.3,662 374.81,660.53 377.32,661.98 374.81,663.45" fill="#fff" stroke="#2a2a2a" stroke-width="0.95" stroke-linejoin="round" stroke-dasharray="4.4 1.6"/>
<polygon points="372.3,770.3 374.81,771.75 374.81,663.45 372.3,662" fill="#fff" stroke="#2a2a2a" stroke-width="0.95" stroke-linejoin="round" stroke-dasharray="4.4 1.6"/>
<polygon points="374.81,771.75 377.32,770.28 377.32,661.98 374.81,663.45" fill="#fff" stroke="#2a2a2a" stroke-width="0.95" stroke-linejoin="round" stroke-dasharray="4.4 1.6"/>
<polygon points="374.81,768.85 377.32,767.38 419.93,791.98 417.42,793.45" fill="#fff" stroke="#2a2a2a" stroke-width="0.95" stroke-linejoin="round" stroke-dasharray="4.4 1.6"/>
<polygon points="374.81,771.75 417.42,796.35 417.42,793.45 374.81,768.85" fill="#fff" stroke="#2a2a2a" stroke-width="0.95" stroke-linejoin="round" stroke-dasharray="4.4 1.6"/>
<polygon points="417.42,796.35 419.93,794.88 419.93,791.98 417.42,793.45" fill="#fff" stroke="#2a2a2a" stroke-width="0.95" stroke-linejoin="round" stroke-dasharray="4.4 1.6"/>
<polygon points="374.81,699.95 377.32,698.48 419.93,723.08 417.42,724.55" fill="#fff" stroke="#2a2a2a" stroke-width="0.95" stroke-linejoin="round" stroke-dasharray="4.4 1.6"/>
<polygon points="374.81,702.85 417.42,727.45 417.42,724.55 374.81,699.95" fill="#fff" stroke="#2a2a2a" stroke-width="0.95" stroke-linejoin="round" stroke-dasharray="4.4 1.6"/>
<polygon points="417.42,727.45 419.93,725.98 419.93,723.08 417.42,724.55" fill="#fff" stroke="#2a2a2a" stroke-width="0.95" stroke-linejoin="round" stroke-dasharray="4.4 1.6"/>
<polygon points="374.81,663.45 377.32,661.98 419.93,686.58 417.42,688.05" fill="#fff" stroke="#2a2a2a" stroke-width="0.95" stroke-linejoin="round" stroke-dasharray="4.4 1.6"/>
<polygon points="374.81,666.35 417.42,690.95 417.42,688.05 374.81,663.45" fill="#fff" stroke="#2a2a2a" stroke-width="0.95" stroke-linejoin="round" stroke-dasharray="4.4 1.6"/>
<polygon points="417.42,690.95 419.93,689.48 419.93,686.58 417.42,688.05" fill="#fff" stroke="#2a2a2a" stroke-width="0.95" stroke-linejoin="round" stroke-dasharray="4.4 1.6"/>
<polygon points="417.42,688.05 419.93,686.58 422.44,688.03 419.93,689.5" fill="#fff" stroke="#2a2a2a" stroke-width="0.95" stroke-linejoin="round" stroke-dasharray="4.4 1.6"/>
<polygon points="417.42,796.35 419.93,797.8 419.93,689.5 417.42,688.05" fill="#fff" stroke="#2a2a2a" stroke-width="0.95" stroke-linejoin="round" stroke-dasharray="4.4 1.6"/>
<polygon points="419.93,797.8 422.44,796.33 422.44,688.03 419.93,689.5" fill="#fff" stroke="#2a2a2a" stroke-width="0.95" stroke-linejoin="round" stroke-dasharray="4.4 1.6"/>
<polygon points="420.45,686.88 546.54,613.21 548.54,614.36 422.44,688.03" fill="#fff" stroke="#2a2a2a" stroke-width="0.95" stroke-linejoin="round" stroke-dasharray="4.4 1.6"/>
<polygon points="420.45,689.18 422.44,690.33 422.44,688.03 420.45,686.88" fill="#fff" stroke="#2a2a2a" stroke-width="0.95" stroke-linejoin="round" stroke-dasharray="4.4 1.6"/>
<polygon points="422.44,690.33 548.54,616.66 548.54,614.36 422.44,688.03" fill="#fff" stroke="#2a2a2a" stroke-width="0.95" stroke-linejoin="round" stroke-dasharray="4.4 1.6"/>
</g>
<line x1="539.6" y1="586.9" x2="520.3" y2="606" stroke="#2a2a2a" stroke-width="0.9" stroke-linecap="butt"/>
<circle cx="546.6" cy="581.5" r="8.4" fill="#fff" stroke="#2a2a2a" stroke-width="1"/>
<text x="0" y="0" transform="translate(546.6 586.7) scale(0.72 1)" text-anchor="middle" font-size="15.5" fill="#222" stroke="#222" stroke-width="0.25">9</text>
<clipPath id="cpG"><circle cx="508.2" cy="336.5" r="31.7"/></clipPath>
<g clip-path="url(#cpG)">
<line x1="508.8" y1="300" x2="508.8" y2="372" stroke="#2a2a2a" stroke-width="1.25" stroke-linecap="butt"/>
<line x1="518.2" y1="300" x2="518.2" y2="372" stroke="#2a2a2a" stroke-width="0.9" stroke-linecap="butt"/>
<line x1="527.9" y1="300" x2="527.9" y2="372" stroke="#2a2a2a" stroke-width="0.9" stroke-linecap="butt"/>
<line x1="470" y1="330.5" x2="509.1" y2="309.8" stroke="#2a2a2a" stroke-width="0.9" stroke-linecap="butt"/>
</g>
<path d="M511.4 320.5 L507.3 320 C503 321.5 496.5 327 495.8 332 C495.3 336 497.5 339.3 501.5 339.2 C504 339 506 337.5 508.8 335.5 L511.4 334 Z" fill="#fff" stroke="#222" stroke-width="1.35" stroke-linejoin="round"/>
<line x1="508.8" y1="321" x2="508.8" y2="335.3" stroke="#2a2a2a" stroke-width="1" stroke-linecap="butt"/>
<ellipse cx="500.5" cy="332.1" rx="1.5" ry="2.1" fill="#fff" stroke="#2a2a2a" stroke-width="0.9" transform="rotate(35 500.5 332.1)"/>
<line x1="507.2" y1="336.1" x2="514.8" y2="340.3" stroke="#1a1a1a" stroke-width="2.7" stroke-linecap="butt"/>
<circle cx="516.3" cy="341.4" r="2.3" fill="#666" stroke="#1a1a1a" stroke-width="1"/>
<polyline points="507.6,358.1 523.6,348.5 519.2,343.6" fill="none" stroke="#1a1a1a" stroke-width="2.2" stroke-linecap="round" stroke-linejoin="round"/>
<circle cx="508.2" cy="336.5" r="31.7" fill="none" stroke="#2a2a2a" stroke-width="1" stroke-dasharray="6.5 1.6"/>
<line x1="540.3" y1="311.2" x2="512.2" y2="336.8" stroke="#2a2a2a" stroke-width="0.9" stroke-linecap="butt"/>
<circle cx="545.9" cy="305.3" r="8.4" fill="#fff" stroke="#2a2a2a" stroke-width="1"/>
<text x="0" y="0" transform="translate(545.9 310.5) scale(0.58 1)" text-anchor="middle" font-size="15.5" fill="#222" stroke="#222" stroke-width="0.25">G</text>
<line x1="554.5" y1="348.9" x2="525.6" y2="348.9" stroke="#2a2a2a" stroke-width="0.9" stroke-linecap="butt"/>
<circle cx="562.9" cy="348.2" r="8.4" fill="#fff" stroke="#2a2a2a" stroke-width="1"/>
<text x="0" y="0" transform="translate(562.9 353.4) scale(0.64 1)" text-anchor="middle" font-size="15.5" fill="#222" stroke="#222" stroke-width="0.25">C</text>
<line x1="490.6" y1="362.9" x2="473.9" y2="384" stroke="#2a2a2a" stroke-width="1" stroke-linecap="butt" stroke-dasharray="6.5 1.7"/>
<circle cx="469.8" cy="390.3" r="7.7" fill="none" stroke="#2a2a2a" stroke-width="1" stroke-dasharray="4.5 1.5"/>
<line x1="468.6" y1="388.2" x2="471.5" y2="391.6" stroke="#1a1a1a" stroke-width="2.6" stroke-linecap="butt"/>
<circle cx="468.5" cy="388" r="1.6" fill="#fff" stroke="#2a2a2a" stroke-width="0.8"/>
<circle cx="468.8" cy="425.2" r="1.3" fill="#444" stroke="#1a1a1a" stroke-width="0.8"/>
<clipPath id="cpH"><circle cx="369.2" cy="576.4" r="27"/></clipPath>
<g clip-path="url(#cpH)">
<line x1="350.8" y1="559.5" x2="350.8" y2="586.5" stroke="#2a2a2a" stroke-width="1" stroke-linecap="butt"/>
<line x1="350.8" y1="559.5" x2="372" y2="548.8" stroke="#2a2a2a" stroke-width="0.9" stroke-linecap="butt"/>
<line x1="338" y1="579.9" x2="392" y2="549.4" stroke="#2a2a2a" stroke-width="0.9" stroke-linecap="butt"/>
<line x1="338" y1="592.7" x2="398" y2="557.5" stroke="#2a2a2a" stroke-width="0.9" stroke-linecap="butt"/>
</g>
<circle cx="361.5" cy="573.1" r="1.4" fill="#fff" stroke="#2a2a2a" stroke-width="0.9"/>
<line x1="362.7" y1="573.6" x2="366.6" y2="575.8" stroke="#1a1a1a" stroke-width="2.2" stroke-linecap="butt"/>
<ellipse cx="369.5" cy="577.2" rx="3.4" ry="5.8" fill="#fff" stroke="#2a2a2a" stroke-width="1" transform="rotate(26.6 369.5 577.2)"/>
<polygon points="372.1,572 376.3,575.3 371.9,584.3 366.9,582.4" fill="#fff" stroke="#fff" stroke-width="0.01" stroke-linejoin="round"/>
<line x1="372.1" y1="572" x2="376.3" y2="575.3" stroke="#2a2a2a" stroke-width="1" stroke-linecap="butt"/>
<line x1="366.9" y1="582.4" x2="371.9" y2="584.3" stroke="#2a2a2a" stroke-width="1" stroke-linecap="butt"/>
<ellipse cx="374.1" cy="579.8" rx="3.1" ry="5" fill="#fff" stroke="#2a2a2a" stroke-width="1" transform="rotate(26.6 374.1 579.8)"/>
<circle cx="369.2" cy="576.4" r="27" fill="none" stroke="#2a2a2a" stroke-width="1" stroke-dasharray="6.5 1.6"/>
<line x1="407.9" y1="581.6" x2="377.4" y2="581.6" stroke="#2a2a2a" stroke-width="0.9" stroke-linecap="butt"/>
<circle cx="416.2" cy="581.5" r="8.4" fill="#fff" stroke="#2a2a2a" stroke-width="1"/>
<text x="0" y="0" transform="translate(416.2 586.7) scale(0.62 1)" text-anchor="middle" font-size="15.5" fill="#222" stroke="#222" stroke-width="0.25">H</text>
<circle cx="411.9" cy="541.7" r="5.8" fill="none" stroke="#2a2a2a" stroke-width="1"/>
<line x1="407.7" y1="545.9" x2="390.8" y2="561" stroke="#2a2a2a" stroke-width="0.9" stroke-linecap="butt"/>
<line x1="409" y1="540.2" x2="413.5" y2="542.6" stroke="#1a1a1a" stroke-width="1.8" stroke-linecap="butt"/>
<clipPath id="cpI"><circle cx="240.1" cy="548.3" r="28"/></clipPath>
<g clip-path="url(#cpI)">
<line x1="220" y1="527.2" x2="270" y2="553.3" stroke="#2a2a2a" stroke-width="0.9" stroke-linecap="butt"/>
<line x1="236" y1="518.7" x2="266" y2="533.9" stroke="#2a2a2a" stroke-width="0.9" stroke-linecap="butt"/>
<line x1="210" y1="538.1" x2="266" y2="568.8" stroke="#2a2a2a" stroke-width="0.9" stroke-linecap="butt"/>
<line x1="220.7" y1="542.2" x2="220.7" y2="569" stroke="#2a2a2a" stroke-width="0.9" stroke-linecap="butt"/>
</g>
<path d="M233.9 549.5 L243.3 544.6 A2.8 3.6 0 0 1 246.6 551.2 L236.4 556.4 Z" fill="#fff" stroke="#1a1a1a" stroke-width="1"/>
<line x1="236.8" y1="550.08" x2="246" y2="545.28" stroke="#1a1a1a" stroke-width="1.3" stroke-linecap="butt"/>
<line x1="237.55" y1="552.15" x2="246.75" y2="547.35" stroke="#1a1a1a" stroke-width="1.3" stroke-linecap="butt"/>
<line x1="238.3" y1="554.22" x2="247.5" y2="549.42" stroke="#1a1a1a" stroke-width="1.3" stroke-linecap="butt"/>
<ellipse cx="235.1" cy="553" rx="2.5" ry="3.7" fill="#fff" stroke="#1a1a1a" stroke-width="1" transform="rotate(-22 235.1 553)"/>
<circle cx="240.1" cy="548.3" r="28" fill="none" stroke="#2a2a2a" stroke-width="1" stroke-dasharray="6.5 1.6"/>
<line x1="201.2" y1="553.5" x2="231.8" y2="553.5" stroke="#2a2a2a" stroke-width="0.9" stroke-linecap="butt"/>
<circle cx="192.8" cy="553.5" r="8.4" fill="#fff" stroke="#2a2a2a" stroke-width="1"/>
<text x="0" y="0" transform="translate(192.8 558.7) scale(0.75 1)" text-anchor="middle" font-size="15.5" fill="#222" stroke="#222" stroke-width="0.25">I</text>
<line x1="216.8" y1="564.5" x2="195.5" y2="579.6" stroke="#2a2a2a" stroke-width="1" stroke-linecap="butt" stroke-dasharray="6.5 1.7"/>
<circle cx="192.8" cy="582" r="4.2" fill="none" stroke="#2a2a2a" stroke-width="0.9"/>
</svg>
</body></html>
